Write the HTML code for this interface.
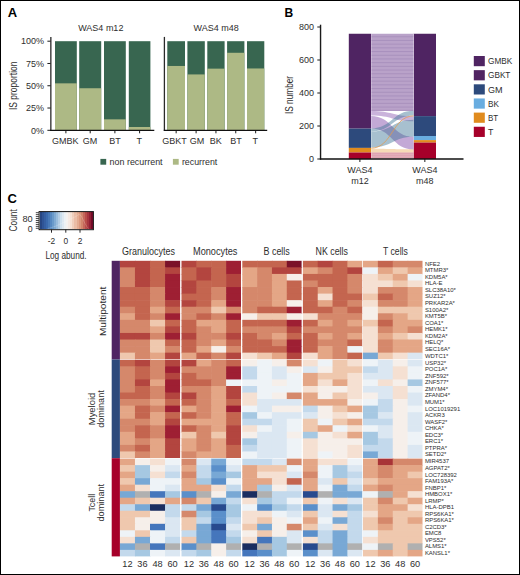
<!DOCTYPE html><html><head><meta charset="utf-8"><style>html,body{margin:0;padding:0;background:#fff;}svg{display:block;}</style></head><body>
<svg width="520" height="575" viewBox="0 0 520 575" font-family='"Liberation Sans", sans-serif'>
<rect x="0" y="0" width="520" height="575" fill="#ffffff"/>
<rect x="55" y="41.2" width="21.8" height="89.1" fill="#386650"/>
<rect x="55" y="83.34" width="21.8" height="46.96" fill="#adb985"/>
<line x1="65.9" y1="130.3" x2="65.9" y2="133.3" stroke="#1a1a1a" stroke-width="1"/>
<text x="65.3" y="144.3" font-size="9" text-anchor="middle" font-weight="normal" fill="#2e2e2e">GMBK</text>
<rect x="79.2" y="41.2" width="22" height="89.1" fill="#386650"/>
<rect x="79.2" y="88.24" width="22" height="42.06" fill="#adb985"/>
<line x1="90.2" y1="130.3" x2="90.2" y2="133.3" stroke="#1a1a1a" stroke-width="1"/>
<text x="90.1" y="144.3" font-size="9" text-anchor="middle" font-weight="normal" fill="#2e2e2e">GM</text>
<rect x="104" y="41.2" width="21.8" height="89.1" fill="#386650"/>
<rect x="104" y="119.34" width="21.8" height="10.96" fill="#adb985"/>
<line x1="114.9" y1="130.3" x2="114.9" y2="133.3" stroke="#1a1a1a" stroke-width="1"/>
<text x="115" y="144.3" font-size="9" text-anchor="middle" font-weight="normal" fill="#2e2e2e">BT</text>
<rect x="128.8" y="41.2" width="21.6" height="89.1" fill="#386650"/>
<rect x="128.8" y="127" width="21.6" height="3.3" fill="#adb985"/>
<line x1="139.6" y1="130.3" x2="139.6" y2="133.3" stroke="#1a1a1a" stroke-width="1"/>
<text x="139.2" y="144.3" font-size="9" text-anchor="middle" font-weight="normal" fill="#2e2e2e">T</text>
<line x1="50.85" y1="36.9" x2="50.85" y2="130.9" stroke="#2a2a2a" stroke-width="1.3"/>
<line x1="47.4" y1="41.2" x2="50.6" y2="41.2" stroke="#1a1a1a" stroke-width="1"/>
<text x="44.1" y="44.4" font-size="9" text-anchor="end" font-weight="normal" fill="#2e2e2e">100%</text>
<line x1="47.4" y1="63.48" x2="50.6" y2="63.48" stroke="#1a1a1a" stroke-width="1"/>
<text x="44.1" y="66.68" font-size="9" text-anchor="end" font-weight="normal" fill="#2e2e2e">75%</text>
<line x1="47.4" y1="85.75" x2="50.6" y2="85.75" stroke="#1a1a1a" stroke-width="1"/>
<text x="44.1" y="88.95" font-size="9" text-anchor="end" font-weight="normal" fill="#2e2e2e">50%</text>
<line x1="47.4" y1="108.03" x2="50.6" y2="108.03" stroke="#1a1a1a" stroke-width="1"/>
<text x="44.1" y="111.23" font-size="9" text-anchor="end" font-weight="normal" fill="#2e2e2e">25%</text>
<line x1="47.4" y1="130.3" x2="50.6" y2="130.3" stroke="#1a1a1a" stroke-width="1"/>
<text x="44.1" y="133.5" font-size="9" text-anchor="end" font-weight="normal" fill="#2e2e2e">0%</text>
<line x1="50.1" y1="130.4" x2="154.3" y2="130.4" stroke="#111" stroke-width="1.3"/>
<rect x="167.3" y="41.2" width="17.7" height="89.1" fill="#386650"/>
<rect x="167.3" y="65.97" width="17.7" height="64.33" fill="#adb985"/>
<line x1="176.15" y1="130.3" x2="176.15" y2="133.3" stroke="#1a1a1a" stroke-width="1"/>
<text x="174.4" y="144.3" font-size="9" text-anchor="middle" font-weight="normal" fill="#2e2e2e">GBKT</text>
<rect x="187.4" y="41.2" width="17.4" height="89.1" fill="#386650"/>
<rect x="187.4" y="74.43" width="17.4" height="55.87" fill="#adb985"/>
<line x1="196.1" y1="130.3" x2="196.1" y2="133.3" stroke="#1a1a1a" stroke-width="1"/>
<text x="196.9" y="144.3" font-size="9" text-anchor="middle" font-weight="normal" fill="#2e2e2e">GM</text>
<rect x="207.3" y="41.2" width="17.3" height="89.1" fill="#386650"/>
<rect x="207.3" y="68.64" width="17.3" height="61.66" fill="#adb985"/>
<line x1="215.95" y1="130.3" x2="215.95" y2="133.3" stroke="#1a1a1a" stroke-width="1"/>
<text x="215.75" y="144.3" font-size="9" text-anchor="middle" font-weight="normal" fill="#2e2e2e">BK</text>
<rect x="227.1" y="41.2" width="17.3" height="89.1" fill="#386650"/>
<rect x="227.1" y="52.78" width="17.3" height="77.52" fill="#adb985"/>
<line x1="235.75" y1="130.3" x2="235.75" y2="133.3" stroke="#1a1a1a" stroke-width="1"/>
<text x="236" y="144.3" font-size="9" text-anchor="middle" font-weight="normal" fill="#2e2e2e">BT</text>
<rect x="247" y="41.2" width="17.3" height="89.1" fill="#386650"/>
<rect x="247" y="68.46" width="17.3" height="61.84" fill="#adb985"/>
<line x1="255.65" y1="130.3" x2="255.65" y2="133.3" stroke="#1a1a1a" stroke-width="1"/>
<text x="255.3" y="144.3" font-size="9" text-anchor="middle" font-weight="normal" fill="#2e2e2e">T</text>
<line x1="164.4" y1="36.9" x2="164.4" y2="130.9" stroke="#2a2a2a" stroke-width="1.3"/>
<line x1="163.8" y1="130.4" x2="267.2" y2="130.4" stroke="#111" stroke-width="1.3"/>
<text x="100.8" y="31.2" font-size="9" text-anchor="middle" font-weight="normal" fill="#2e2e2e">WAS4 m12</text>
<text x="216.1" y="31.2" font-size="9" text-anchor="middle" font-weight="normal" fill="#2e2e2e">WAS4 m48</text>
<text transform="translate(16.8 85.8) rotate(-90)" x="0" y="0" font-size="10.5" text-anchor="middle" fill="#2e2e2e" textLength="48.4" lengthAdjust="spacingAndGlyphs">IS proportion</text>
<rect x="100.4" y="158.9" width="5.8" height="5.8" fill="#386650"/>
<text x="109.6" y="164.6" font-size="9" text-anchor="start" font-weight="normal" fill="#2e2e2e" textLength="53" lengthAdjust="spacingAndGlyphs">non recurrent</text>
<rect x="172.9" y="158.9" width="5.8" height="5.8" fill="#adb985"/>
<text x="181.9" y="164.6" font-size="9" text-anchor="start" font-weight="normal" fill="#2e2e2e" textLength="35.4" lengthAdjust="spacingAndGlyphs">recurrent</text>
<text transform="translate(293 95) rotate(-90)" x="0" y="0" font-size="10.5" text-anchor="middle" fill="#2e2e2e" textLength="38.2" lengthAdjust="spacingAndGlyphs">IS number</text>
<rect x="348.8" y="33.75" width="22.2" height="94.85" fill="#4f2462"/>
<rect x="348.8" y="128.6" width="22.2" height="19.3" fill="#2d4a7c"/>
<rect x="348.8" y="147.9" width="22.2" height="4.6" fill="#e08b1e"/>
<rect x="348.8" y="152.5" width="22.2" height="6.5" fill="#a6002a"/>
<rect x="413.7" y="33.75" width="22.3" height="82.35" fill="#4f2462"/>
<rect x="413.7" y="116.1" width="22.3" height="19.9" fill="#2d4a7c"/>
<rect x="413.7" y="136" width="22.3" height="4.1" fill="#69ade0"/>
<rect x="413.7" y="140.1" width="22.3" height="2.5" fill="#e08b1e"/>
<rect x="413.7" y="142.6" width="22.3" height="16.4" fill="#a6002a"/>
<rect x="371" y="33.75" width="42.7" height="77.05" fill="#b9a2c9"/>
<line x1="371" y1="36.75" x2="413.7" y2="36.75" stroke="#a48dba" stroke-width="0.8"/>
<line x1="371" y1="40.45" x2="413.7" y2="40.45" stroke="#a48dba" stroke-width="0.8"/>
<line x1="371" y1="44.15" x2="413.7" y2="44.15" stroke="#a48dba" stroke-width="0.8"/>
<line x1="371" y1="47.85" x2="413.7" y2="47.85" stroke="#a48dba" stroke-width="0.8"/>
<line x1="371" y1="51.55" x2="413.7" y2="51.55" stroke="#a48dba" stroke-width="0.8"/>
<line x1="371" y1="55.25" x2="413.7" y2="55.25" stroke="#a48dba" stroke-width="0.8"/>
<line x1="371" y1="58.95" x2="413.7" y2="58.95" stroke="#a48dba" stroke-width="0.8"/>
<line x1="371" y1="62.65" x2="413.7" y2="62.65" stroke="#a48dba" stroke-width="0.8"/>
<line x1="371" y1="66.35" x2="413.7" y2="66.35" stroke="#a48dba" stroke-width="0.8"/>
<line x1="371" y1="70.05" x2="413.7" y2="70.05" stroke="#a48dba" stroke-width="0.8"/>
<line x1="371" y1="73.75" x2="413.7" y2="73.75" stroke="#a48dba" stroke-width="0.8"/>
<line x1="371" y1="77.45" x2="413.7" y2="77.45" stroke="#a48dba" stroke-width="0.8"/>
<line x1="371" y1="81.15" x2="413.7" y2="81.15" stroke="#a48dba" stroke-width="0.8"/>
<line x1="371" y1="84.85" x2="413.7" y2="84.85" stroke="#a48dba" stroke-width="0.8"/>
<line x1="371" y1="88.55" x2="413.7" y2="88.55" stroke="#a48dba" stroke-width="0.8"/>
<line x1="371" y1="92.25" x2="413.7" y2="92.25" stroke="#a48dba" stroke-width="0.8"/>
<line x1="371" y1="95.95" x2="413.7" y2="95.95" stroke="#a48dba" stroke-width="0.8"/>
<line x1="371" y1="99.65" x2="413.7" y2="99.65" stroke="#a48dba" stroke-width="0.8"/>
<line x1="371" y1="103.35" x2="413.7" y2="103.35" stroke="#a48dba" stroke-width="0.8"/>
<line x1="371" y1="107.05" x2="413.7" y2="107.05" stroke="#a48dba" stroke-width="0.8"/>
<line x1="371" y1="110.3" x2="413.7" y2="110.3" stroke="#a98fbe" stroke-width="1"/>
<path d="M371 111 C392.35 111 392.35 116.2 413.7 116.2 L413.7 121.2 C392.35 121.2 392.35 115.4 371 115.4 Z" fill="#7a40a4" fill-opacity="0.4"/>
<path d="M371 116 C392.35 116 392.35 136.8 413.7 136.8 L413.7 149.4 C392.35 149.4 392.35 128.4 371 128.4 Z" fill="#7a40a4" fill-opacity="0.45"/>
<path d="M371 128.4 C392.35 128.4 392.35 110.8 413.7 110.8 L413.7 115.6 C392.35 115.6 392.35 131.6 371 131.6 Z" fill="#3b7394" fill-opacity="0.45"/>
<path d="M371 131.6 C392.35 131.6 392.35 119.8 413.7 119.8 L413.7 136.8 C392.35 136.8 392.35 147.6 371 147.6 Z" fill="#3b7394" fill-opacity="0.45"/>
<path d="M371 148.2 C392.35 148.2 392.35 115.9 413.7 115.9" fill="none" stroke="#e39a4c" stroke-width="0.9" stroke-opacity="0.85"/>
<path d="M371 148.8 C392.35 148.8 392.35 149.4 413.7 149.4 L413.7 152.6 C392.35 152.6 392.35 152.6 371 152.6 Z" fill="#e08b1e" fill-opacity="0.32"/>
<path d="M371 152.6 C392.35 152.6 392.35 152.6 413.7 152.6 L413.7 158.6 C392.35 158.6 392.35 158.6 371 158.6 Z" fill="#a6002a" fill-opacity="0.36"/>
<line x1="371" y1="154.6" x2="413.7" y2="154.6" stroke="#ffffff" stroke-width="0.5" stroke-opacity="0.25"/>
<line x1="371" y1="156.6" x2="413.7" y2="156.6" stroke="#ffffff" stroke-width="0.5" stroke-opacity="0.25"/>
<rect x="371" y="33.75" width="0.7" height="124.85" fill="#ffffff" fill-opacity="0.35"/>
<rect x="413" y="33.75" width="0.7" height="124.85" fill="#ffffff" fill-opacity="0.35"/>
<line x1="320.55" y1="24.7" x2="320.55" y2="159.6" stroke="#1a1a1a" stroke-width="1.4"/>
<line x1="317.3" y1="159" x2="320.4" y2="159" stroke="#1a1a1a" stroke-width="1"/>
<text x="314" y="162.2" font-size="9" text-anchor="end" font-weight="normal" fill="#2e2e2e">0</text>
<line x1="317.3" y1="126" x2="320.4" y2="126" stroke="#1a1a1a" stroke-width="1"/>
<text x="314" y="129.2" font-size="9" text-anchor="end" font-weight="normal" fill="#2e2e2e">200</text>
<line x1="317.3" y1="93" x2="320.4" y2="93" stroke="#1a1a1a" stroke-width="1"/>
<text x="314" y="96.2" font-size="9" text-anchor="end" font-weight="normal" fill="#2e2e2e">400</text>
<line x1="317.3" y1="60" x2="320.4" y2="60" stroke="#1a1a1a" stroke-width="1"/>
<text x="314" y="63.2" font-size="9" text-anchor="end" font-weight="normal" fill="#2e2e2e">600</text>
<line x1="317.3" y1="27" x2="320.4" y2="27" stroke="#1a1a1a" stroke-width="1"/>
<text x="314" y="30.2" font-size="9" text-anchor="end" font-weight="normal" fill="#2e2e2e">800</text>
<line x1="319.9" y1="158.95" x2="463.5" y2="158.95" stroke="#111" stroke-width="1.4"/>
<line x1="359.9" y1="159" x2="359.9" y2="162" stroke="#1a1a1a" stroke-width="1"/>
<text x="359.9" y="173.4" font-size="9" text-anchor="middle" font-weight="normal" fill="#2e2e2e">WAS4</text>
<text x="359.9" y="183.8" font-size="9" text-anchor="middle" font-weight="normal" fill="#2e2e2e">m12</text>
<line x1="424.85" y1="159" x2="424.85" y2="162" stroke="#1a1a1a" stroke-width="1"/>
<text x="424.85" y="173.4" font-size="9" text-anchor="middle" font-weight="normal" fill="#2e2e2e">WAS4</text>
<text x="424.85" y="183.8" font-size="9" text-anchor="middle" font-weight="normal" fill="#2e2e2e">m48</text>
<rect x="473.8" y="56" width="11" height="10.2" fill="#4f2462"/>
<text x="488" y="64.3" font-size="9" text-anchor="start" font-weight="normal" fill="#2e2e2e" textLength="24.2" lengthAdjust="spacingAndGlyphs">GMBK</text>
<rect x="473.8" y="70.15" width="11" height="10.2" fill="#512462"/>
<text x="488" y="78.45" font-size="9" text-anchor="start" font-weight="normal" fill="#2e2e2e" textLength="22.4" lengthAdjust="spacingAndGlyphs">GBKT</text>
<rect x="473.8" y="84.3" width="11" height="10.2" fill="#2d4a7c"/>
<text x="488" y="92.6" font-size="9" text-anchor="start" font-weight="normal" fill="#2e2e2e" textLength="14.6" lengthAdjust="spacingAndGlyphs">GM</text>
<rect x="473.8" y="98.45" width="11" height="10.2" fill="#69ade0"/>
<text x="488" y="106.75" font-size="9" text-anchor="start" font-weight="normal" fill="#2e2e2e" textLength="10.9" lengthAdjust="spacingAndGlyphs">BK</text>
<rect x="473.8" y="112.6" width="11" height="10.2" fill="#e08b1e"/>
<text x="488" y="120.9" font-size="9" text-anchor="start" font-weight="normal" fill="#2e2e2e" textLength="10.2" lengthAdjust="spacingAndGlyphs">BT</text>
<rect x="473.8" y="126.75" width="11" height="10.2" fill="#a6002a"/>
<text x="488" y="135.05" font-size="9" text-anchor="start" font-weight="normal" fill="#2e2e2e" textLength="5.4" lengthAdjust="spacingAndGlyphs">T</text>
<g>
<rect x="119.9" y="260.8" width="15.65" height="7.16" fill="#b3453f"/>
<rect x="134.95" y="260.8" width="15.65" height="7.16" fill="#b3453f"/>
<rect x="150" y="260.8" width="15.65" height="7.16" fill="#c4654f"/>
<rect x="165.05" y="260.8" width="15.05" height="7.16" fill="#7b1229"/>
<rect x="119.9" y="267.36" width="15.65" height="7.16" fill="#d5886b"/>
<rect x="134.95" y="267.36" width="15.65" height="7.16" fill="#b3453f"/>
<rect x="150" y="267.36" width="15.65" height="7.16" fill="#c4654f"/>
<rect x="165.05" y="267.36" width="15.05" height="7.16" fill="#b3453f"/>
<rect x="119.9" y="273.92" width="15.65" height="7.16" fill="#d5886b"/>
<rect x="134.95" y="273.92" width="15.65" height="7.16" fill="#b3453f"/>
<rect x="150" y="273.92" width="15.65" height="7.16" fill="#c4654f"/>
<rect x="165.05" y="273.92" width="15.05" height="7.16" fill="#9e1f33"/>
<rect x="119.9" y="280.48" width="15.65" height="7.16" fill="#d5886b"/>
<rect x="134.95" y="280.48" width="15.65" height="7.16" fill="#b3453f"/>
<rect x="150" y="280.48" width="15.65" height="7.16" fill="#c4654f"/>
<rect x="165.05" y="280.48" width="15.05" height="7.16" fill="#9e1f33"/>
<rect x="119.9" y="287.04" width="15.65" height="7.16" fill="#c4654f"/>
<rect x="134.95" y="287.04" width="15.65" height="7.16" fill="#c4654f"/>
<rect x="150" y="287.04" width="15.65" height="7.16" fill="#d5886b"/>
<rect x="165.05" y="287.04" width="15.05" height="7.16" fill="#9e1f33"/>
<rect x="119.9" y="293.6" width="15.65" height="7.16" fill="#c4654f"/>
<rect x="134.95" y="293.6" width="15.65" height="7.16" fill="#c4654f"/>
<rect x="150" y="293.6" width="15.65" height="7.16" fill="#d5886b"/>
<rect x="165.05" y="293.6" width="15.05" height="7.16" fill="#9e1f33"/>
<rect x="119.9" y="300.16" width="15.65" height="7.16" fill="#c4654f"/>
<rect x="134.95" y="300.16" width="15.65" height="7.16" fill="#c4654f"/>
<rect x="150" y="300.16" width="15.65" height="7.16" fill="#d5886b"/>
<rect x="165.05" y="300.16" width="15.05" height="7.16" fill="#b3453f"/>
<rect x="119.9" y="306.72" width="15.65" height="7.16" fill="#d5886b"/>
<rect x="134.95" y="306.72" width="15.65" height="7.16" fill="#c4654f"/>
<rect x="150" y="306.72" width="15.65" height="7.16" fill="#e4a686"/>
<rect x="165.05" y="306.72" width="15.05" height="7.16" fill="#c4654f"/>
<rect x="119.9" y="313.28" width="15.65" height="7.16" fill="#e4a686"/>
<rect x="134.95" y="313.28" width="15.65" height="7.16" fill="#c4654f"/>
<rect x="150" y="313.28" width="15.65" height="7.16" fill="#d5886b"/>
<rect x="165.05" y="313.28" width="15.05" height="7.16" fill="#9e1f33"/>
<rect x="119.9" y="319.84" width="15.65" height="7.16" fill="#d5886b"/>
<rect x="134.95" y="319.84" width="15.65" height="7.16" fill="#d5886b"/>
<rect x="150" y="319.84" width="15.65" height="7.16" fill="#efc8ae"/>
<rect x="165.05" y="319.84" width="15.05" height="7.16" fill="#c4654f"/>
<rect x="119.9" y="326.4" width="15.65" height="7.16" fill="#d5886b"/>
<rect x="134.95" y="326.4" width="15.65" height="7.16" fill="#d5886b"/>
<rect x="150" y="326.4" width="15.65" height="7.16" fill="#e4a686"/>
<rect x="165.05" y="326.4" width="15.05" height="7.16" fill="#b3453f"/>
<rect x="119.9" y="332.96" width="15.65" height="7.16" fill="#b3453f"/>
<rect x="134.95" y="332.96" width="15.65" height="7.16" fill="#b3453f"/>
<rect x="150" y="332.96" width="15.65" height="7.16" fill="#d5886b"/>
<rect x="165.05" y="332.96" width="15.05" height="7.16" fill="#9e1f33"/>
<rect x="119.9" y="339.52" width="15.65" height="7.16" fill="#d5886b"/>
<rect x="134.95" y="339.52" width="15.65" height="7.16" fill="#d5886b"/>
<rect x="150" y="339.52" width="15.65" height="7.16" fill="#efc8ae"/>
<rect x="165.05" y="339.52" width="15.05" height="7.16" fill="#c4654f"/>
<rect x="119.9" y="346.08" width="15.65" height="7.16" fill="#d5886b"/>
<rect x="134.95" y="346.08" width="15.65" height="7.16" fill="#d5886b"/>
<rect x="150" y="346.08" width="15.65" height="7.16" fill="#efc8ae"/>
<rect x="165.05" y="346.08" width="15.05" height="7.16" fill="#d5886b"/>
<rect x="119.9" y="352.64" width="15.65" height="6.56" fill="#efc8ae"/>
<rect x="134.95" y="352.64" width="15.65" height="6.56" fill="#d5886b"/>
<rect x="150" y="352.64" width="15.65" height="6.56" fill="#e4a686"/>
<rect x="165.05" y="352.64" width="15.05" height="6.56" fill="#b3453f"/>
<rect x="119.9" y="359.8" width="15.65" height="7.15" fill="#c4654f"/>
<rect x="134.95" y="359.8" width="15.65" height="7.15" fill="#b3453f"/>
<rect x="150" y="359.8" width="15.65" height="7.15" fill="#d5886b"/>
<rect x="165.05" y="359.8" width="15.05" height="7.15" fill="#b3453f"/>
<rect x="119.9" y="366.35" width="15.65" height="7.15" fill="#d5886b"/>
<rect x="134.95" y="366.35" width="15.65" height="7.15" fill="#c4654f"/>
<rect x="150" y="366.35" width="15.65" height="7.15" fill="#d5886b"/>
<rect x="165.05" y="366.35" width="15.05" height="7.15" fill="#9e1f33"/>
<rect x="119.9" y="372.89" width="15.65" height="7.15" fill="#d5886b"/>
<rect x="134.95" y="372.89" width="15.65" height="7.15" fill="#c4654f"/>
<rect x="150" y="372.89" width="15.65" height="7.15" fill="#d5886b"/>
<rect x="165.05" y="372.89" width="15.05" height="7.15" fill="#b3453f"/>
<rect x="119.9" y="379.44" width="15.65" height="7.15" fill="#d5886b"/>
<rect x="134.95" y="379.44" width="15.65" height="7.15" fill="#b3453f"/>
<rect x="150" y="379.44" width="15.65" height="7.15" fill="#e4a686"/>
<rect x="165.05" y="379.44" width="15.05" height="7.15" fill="#9e1f33"/>
<rect x="119.9" y="385.99" width="15.65" height="7.15" fill="#d5886b"/>
<rect x="134.95" y="385.99" width="15.65" height="7.15" fill="#c4654f"/>
<rect x="150" y="385.99" width="15.65" height="7.15" fill="#d5886b"/>
<rect x="165.05" y="385.99" width="15.05" height="7.15" fill="#9e1f33"/>
<rect x="119.9" y="392.53" width="15.65" height="7.15" fill="#c4654f"/>
<rect x="134.95" y="392.53" width="15.65" height="7.15" fill="#c4654f"/>
<rect x="150" y="392.53" width="15.65" height="7.15" fill="#d5886b"/>
<rect x="165.05" y="392.53" width="15.05" height="7.15" fill="#b3453f"/>
<rect x="119.9" y="399.08" width="15.65" height="7.15" fill="#d5886b"/>
<rect x="134.95" y="399.08" width="15.65" height="7.15" fill="#d5886b"/>
<rect x="150" y="399.08" width="15.65" height="7.15" fill="#e4a686"/>
<rect x="165.05" y="399.08" width="15.05" height="7.15" fill="#c4654f"/>
<rect x="119.9" y="405.63" width="15.65" height="7.15" fill="#e4a686"/>
<rect x="134.95" y="405.63" width="15.65" height="7.15" fill="#c4654f"/>
<rect x="150" y="405.63" width="15.65" height="7.15" fill="#d5886b"/>
<rect x="165.05" y="405.63" width="15.05" height="7.15" fill="#9e1f33"/>
<rect x="119.9" y="412.17" width="15.65" height="7.15" fill="#e4a686"/>
<rect x="134.95" y="412.17" width="15.65" height="7.15" fill="#c4654f"/>
<rect x="150" y="412.17" width="15.65" height="7.15" fill="#e4a686"/>
<rect x="165.05" y="412.17" width="15.05" height="7.15" fill="#c4654f"/>
<rect x="119.9" y="418.72" width="15.65" height="7.15" fill="#d5886b"/>
<rect x="134.95" y="418.72" width="15.65" height="7.15" fill="#d5886b"/>
<rect x="150" y="418.72" width="15.65" height="7.15" fill="#e4a686"/>
<rect x="165.05" y="418.72" width="15.05" height="7.15" fill="#b3453f"/>
<rect x="119.9" y="425.27" width="15.65" height="7.15" fill="#d5886b"/>
<rect x="134.95" y="425.27" width="15.65" height="7.15" fill="#c4654f"/>
<rect x="150" y="425.27" width="15.65" height="7.15" fill="#d5886b"/>
<rect x="165.05" y="425.27" width="15.05" height="7.15" fill="#9e1f33"/>
<rect x="119.9" y="431.81" width="15.65" height="7.15" fill="#e4a686"/>
<rect x="134.95" y="431.81" width="15.65" height="7.15" fill="#c4654f"/>
<rect x="150" y="431.81" width="15.65" height="7.15" fill="#d5886b"/>
<rect x="165.05" y="431.81" width="15.05" height="7.15" fill="#9e1f33"/>
<rect x="119.9" y="438.36" width="15.65" height="7.15" fill="#e4a686"/>
<rect x="134.95" y="438.36" width="15.65" height="7.15" fill="#d5886b"/>
<rect x="150" y="438.36" width="15.65" height="7.15" fill="#e4a686"/>
<rect x="165.05" y="438.36" width="15.05" height="7.15" fill="#b3453f"/>
<rect x="119.9" y="444.91" width="15.65" height="7.15" fill="#d5886b"/>
<rect x="134.95" y="444.91" width="15.65" height="7.15" fill="#c4654f"/>
<rect x="150" y="444.91" width="15.65" height="7.15" fill="#e4a686"/>
<rect x="165.05" y="444.91" width="15.05" height="7.15" fill="#b3453f"/>
<rect x="119.9" y="451.45" width="15.65" height="6.55" fill="#efc8ae"/>
<rect x="134.95" y="451.45" width="15.65" height="6.55" fill="#d5886b"/>
<rect x="150" y="451.45" width="15.65" height="6.55" fill="#e4a686"/>
<rect x="165.05" y="451.45" width="15.05" height="6.55" fill="#b3453f"/>
<rect x="119.9" y="458.6" width="15.65" height="7.12" fill="#e4a686"/>
<rect x="134.95" y="458.6" width="15.65" height="7.12" fill="#f6efea"/>
<rect x="150" y="458.6" width="15.65" height="7.12" fill="#f5e0d2"/>
<rect x="165.05" y="458.6" width="15.05" height="7.12" fill="#eef3f7"/>
<rect x="119.9" y="465.12" width="15.65" height="7.12" fill="#efc8ae"/>
<rect x="134.95" y="465.12" width="15.65" height="7.12" fill="#a6c8e2"/>
<rect x="150" y="465.12" width="15.65" height="7.12" fill="#f6efea"/>
<rect x="165.05" y="465.12" width="15.05" height="7.12" fill="#dbe7f2"/>
<rect x="119.9" y="471.64" width="15.65" height="7.12" fill="#e4a686"/>
<rect x="134.95" y="471.64" width="15.65" height="7.12" fill="#a6c8e2"/>
<rect x="150" y="471.64" width="15.65" height="7.12" fill="#f5e0d2"/>
<rect x="165.05" y="471.64" width="15.05" height="7.12" fill="#c3d9ec"/>
<rect x="119.9" y="478.16" width="15.65" height="7.12" fill="#efc8ae"/>
<rect x="134.95" y="478.16" width="15.65" height="7.12" fill="#78a8d5"/>
<rect x="150" y="478.16" width="15.65" height="7.12" fill="#eef3f7"/>
<rect x="165.05" y="478.16" width="15.05" height="7.12" fill="#eef3f7"/>
<rect x="119.9" y="484.68" width="15.65" height="7.12" fill="#e4a686"/>
<rect x="134.95" y="484.68" width="15.65" height="7.12" fill="#f5e0d2"/>
<rect x="150" y="484.68" width="15.65" height="7.12" fill="#eef3f7"/>
<rect x="165.05" y="484.68" width="15.05" height="7.12" fill="#dbe7f2"/>
<rect x="119.9" y="491.2" width="15.65" height="7.12" fill="#78a8d5"/>
<rect x="134.95" y="491.2" width="15.65" height="7.12" fill="#b0b0b0"/>
<rect x="150" y="491.2" width="15.65" height="7.12" fill="#4576bc"/>
<rect x="165.05" y="491.2" width="15.05" height="7.12" fill="#a6c8e2"/>
<rect x="119.9" y="497.72" width="15.65" height="7.12" fill="#e4a686"/>
<rect x="134.95" y="497.72" width="15.65" height="7.12" fill="#efc8ae"/>
<rect x="150" y="497.72" width="15.65" height="7.12" fill="#f5e0d2"/>
<rect x="165.05" y="497.72" width="15.05" height="7.12" fill="#e4a686"/>
<rect x="119.9" y="504.24" width="15.65" height="7.12" fill="#c3d9ec"/>
<rect x="134.95" y="504.24" width="15.65" height="7.12" fill="#78a8d5"/>
<rect x="150" y="504.24" width="15.65" height="7.12" fill="#1a2d60"/>
<rect x="165.05" y="504.24" width="15.05" height="7.12" fill="#c3d9ec"/>
<rect x="119.9" y="510.76" width="15.65" height="7.12" fill="#efc8ae"/>
<rect x="134.95" y="510.76" width="15.65" height="7.12" fill="#efc8ae"/>
<rect x="150" y="510.76" width="15.65" height="7.12" fill="#f6efea"/>
<rect x="165.05" y="510.76" width="15.05" height="7.12" fill="#c3d9ec"/>
<rect x="119.9" y="517.28" width="15.65" height="7.12" fill="#efc8ae"/>
<rect x="134.95" y="517.28" width="15.65" height="7.12" fill="#f6efea"/>
<rect x="150" y="517.28" width="15.65" height="7.12" fill="#f6efea"/>
<rect x="165.05" y="517.28" width="15.05" height="7.12" fill="#dbe7f2"/>
<rect x="119.9" y="523.8" width="15.65" height="7.12" fill="#efc8ae"/>
<rect x="134.95" y="523.8" width="15.65" height="7.12" fill="#f6efea"/>
<rect x="150" y="523.8" width="15.65" height="7.12" fill="#4576bc"/>
<rect x="165.05" y="523.8" width="15.05" height="7.12" fill="#dbe7f2"/>
<rect x="119.9" y="530.32" width="15.65" height="7.12" fill="#eef3f7"/>
<rect x="134.95" y="530.32" width="15.65" height="7.12" fill="#efc8ae"/>
<rect x="150" y="530.32" width="15.65" height="7.12" fill="#eef3f7"/>
<rect x="165.05" y="530.32" width="15.05" height="7.12" fill="#dbe7f2"/>
<rect x="119.9" y="536.84" width="15.65" height="7.12" fill="#f5e0d2"/>
<rect x="134.95" y="536.84" width="15.65" height="7.12" fill="#78a8d5"/>
<rect x="150" y="536.84" width="15.65" height="7.12" fill="#eef3f7"/>
<rect x="165.05" y="536.84" width="15.05" height="7.12" fill="#c3d9ec"/>
<rect x="119.9" y="543.36" width="15.65" height="7.12" fill="#78a8d5"/>
<rect x="134.95" y="543.36" width="15.65" height="7.12" fill="#b0b0b0"/>
<rect x="150" y="543.36" width="15.65" height="7.12" fill="#4576bc"/>
<rect x="165.05" y="543.36" width="15.05" height="7.12" fill="#b0b0b0"/>
<rect x="119.9" y="549.88" width="15.65" height="6.52" fill="#c3d9ec"/>
<rect x="134.95" y="549.88" width="15.65" height="6.52" fill="#a6c8e2"/>
<rect x="150" y="549.88" width="15.65" height="6.52" fill="#eef3f7"/>
<rect x="165.05" y="549.88" width="15.05" height="6.52" fill="#dbe7f2"/>
<rect x="181.5" y="260.8" width="15.47" height="7.16" fill="#b3453f"/>
<rect x="196.38" y="260.8" width="15.47" height="7.16" fill="#c4654f"/>
<rect x="211.25" y="260.8" width="15.47" height="7.16" fill="#c4654f"/>
<rect x="226.12" y="260.8" width="14.88" height="7.16" fill="#9e1f33"/>
<rect x="181.5" y="267.36" width="15.47" height="7.16" fill="#c4654f"/>
<rect x="196.38" y="267.36" width="15.47" height="7.16" fill="#b3453f"/>
<rect x="211.25" y="267.36" width="15.47" height="7.16" fill="#c4654f"/>
<rect x="226.12" y="267.36" width="14.88" height="7.16" fill="#9e1f33"/>
<rect x="181.5" y="273.92" width="15.47" height="7.16" fill="#c4654f"/>
<rect x="196.38" y="273.92" width="15.47" height="7.16" fill="#b3453f"/>
<rect x="211.25" y="273.92" width="15.47" height="7.16" fill="#c4654f"/>
<rect x="226.12" y="273.92" width="14.88" height="7.16" fill="#b3453f"/>
<rect x="181.5" y="280.48" width="15.47" height="7.16" fill="#b3453f"/>
<rect x="196.38" y="280.48" width="15.47" height="7.16" fill="#c4654f"/>
<rect x="211.25" y="280.48" width="15.47" height="7.16" fill="#c4654f"/>
<rect x="226.12" y="280.48" width="14.88" height="7.16" fill="#b3453f"/>
<rect x="181.5" y="287.04" width="15.47" height="7.16" fill="#b3453f"/>
<rect x="196.38" y="287.04" width="15.47" height="7.16" fill="#c4654f"/>
<rect x="211.25" y="287.04" width="15.47" height="7.16" fill="#d5886b"/>
<rect x="226.12" y="287.04" width="14.88" height="7.16" fill="#9e1f33"/>
<rect x="181.5" y="293.6" width="15.47" height="7.16" fill="#c4654f"/>
<rect x="196.38" y="293.6" width="15.47" height="7.16" fill="#c4654f"/>
<rect x="211.25" y="293.6" width="15.47" height="7.16" fill="#d5886b"/>
<rect x="226.12" y="293.6" width="14.88" height="7.16" fill="#9e1f33"/>
<rect x="181.5" y="300.16" width="15.47" height="7.16" fill="#b3453f"/>
<rect x="196.38" y="300.16" width="15.47" height="7.16" fill="#c4654f"/>
<rect x="211.25" y="300.16" width="15.47" height="7.16" fill="#e4a686"/>
<rect x="226.12" y="300.16" width="14.88" height="7.16" fill="#9e1f33"/>
<rect x="181.5" y="306.72" width="15.47" height="7.16" fill="#d5886b"/>
<rect x="196.38" y="306.72" width="15.47" height="7.16" fill="#d5886b"/>
<rect x="211.25" y="306.72" width="15.47" height="7.16" fill="#efc8ae"/>
<rect x="226.12" y="306.72" width="14.88" height="7.16" fill="#d5886b"/>
<rect x="181.5" y="313.28" width="15.47" height="7.16" fill="#d5886b"/>
<rect x="196.38" y="313.28" width="15.47" height="7.16" fill="#c4654f"/>
<rect x="211.25" y="313.28" width="15.47" height="7.16" fill="#d5886b"/>
<rect x="226.12" y="313.28" width="14.88" height="7.16" fill="#9e1f33"/>
<rect x="181.5" y="319.84" width="15.47" height="7.16" fill="#c4654f"/>
<rect x="196.38" y="319.84" width="15.47" height="7.16" fill="#e4a686"/>
<rect x="211.25" y="319.84" width="15.47" height="7.16" fill="#e4a686"/>
<rect x="226.12" y="319.84" width="14.88" height="7.16" fill="#c4654f"/>
<rect x="181.5" y="326.4" width="15.47" height="7.16" fill="#c4654f"/>
<rect x="196.38" y="326.4" width="15.47" height="7.16" fill="#d5886b"/>
<rect x="211.25" y="326.4" width="15.47" height="7.16" fill="#e4a686"/>
<rect x="226.12" y="326.4" width="14.88" height="7.16" fill="#c4654f"/>
<rect x="181.5" y="332.96" width="15.47" height="7.16" fill="#b3453f"/>
<rect x="196.38" y="332.96" width="15.47" height="7.16" fill="#d5886b"/>
<rect x="211.25" y="332.96" width="15.47" height="7.16" fill="#d5886b"/>
<rect x="226.12" y="332.96" width="14.88" height="7.16" fill="#b3453f"/>
<rect x="181.5" y="339.52" width="15.47" height="7.16" fill="#c4654f"/>
<rect x="196.38" y="339.52" width="15.47" height="7.16" fill="#d5886b"/>
<rect x="211.25" y="339.52" width="15.47" height="7.16" fill="#e4a686"/>
<rect x="226.12" y="339.52" width="14.88" height="7.16" fill="#c4654f"/>
<rect x="181.5" y="346.08" width="15.47" height="7.16" fill="#c4654f"/>
<rect x="196.38" y="346.08" width="15.47" height="7.16" fill="#e4a686"/>
<rect x="211.25" y="346.08" width="15.47" height="7.16" fill="#f6efea"/>
<rect x="226.12" y="346.08" width="14.88" height="7.16" fill="#d5886b"/>
<rect x="181.5" y="352.64" width="15.47" height="6.56" fill="#e4a686"/>
<rect x="196.38" y="352.64" width="15.47" height="6.56" fill="#c4654f"/>
<rect x="211.25" y="352.64" width="15.47" height="6.56" fill="#d5886b"/>
<rect x="226.12" y="352.64" width="14.88" height="6.56" fill="#b3453f"/>
<rect x="181.5" y="359.8" width="15.47" height="7.15" fill="#b3453f"/>
<rect x="196.38" y="359.8" width="15.47" height="7.15" fill="#e4a686"/>
<rect x="211.25" y="359.8" width="15.47" height="7.15" fill="#d5886b"/>
<rect x="226.12" y="359.8" width="14.88" height="7.15" fill="#c4654f"/>
<rect x="181.5" y="366.35" width="15.47" height="7.15" fill="#d5886b"/>
<rect x="196.38" y="366.35" width="15.47" height="7.15" fill="#d5886b"/>
<rect x="211.25" y="366.35" width="15.47" height="7.15" fill="#d5886b"/>
<rect x="226.12" y="366.35" width="14.88" height="7.15" fill="#9e1f33"/>
<rect x="181.5" y="372.89" width="15.47" height="7.15" fill="#c4654f"/>
<rect x="196.38" y="372.89" width="15.47" height="7.15" fill="#d5886b"/>
<rect x="211.25" y="372.89" width="15.47" height="7.15" fill="#d5886b"/>
<rect x="226.12" y="372.89" width="14.88" height="7.15" fill="#9e1f33"/>
<rect x="181.5" y="379.44" width="15.47" height="7.15" fill="#c4654f"/>
<rect x="196.38" y="379.44" width="15.47" height="7.15" fill="#c4654f"/>
<rect x="211.25" y="379.44" width="15.47" height="7.15" fill="#d5886b"/>
<rect x="226.12" y="379.44" width="14.88" height="7.15" fill="#eef3f7"/>
<rect x="181.5" y="385.99" width="15.47" height="7.15" fill="#d5886b"/>
<rect x="196.38" y="385.99" width="15.47" height="7.15" fill="#d5886b"/>
<rect x="211.25" y="385.99" width="15.47" height="7.15" fill="#e4a686"/>
<rect x="226.12" y="385.99" width="14.88" height="7.15" fill="#b3453f"/>
<rect x="181.5" y="392.53" width="15.47" height="7.15" fill="#b3453f"/>
<rect x="196.38" y="392.53" width="15.47" height="7.15" fill="#d5886b"/>
<rect x="211.25" y="392.53" width="15.47" height="7.15" fill="#e4a686"/>
<rect x="226.12" y="392.53" width="14.88" height="7.15" fill="#b3453f"/>
<rect x="181.5" y="399.08" width="15.47" height="7.15" fill="#c4654f"/>
<rect x="196.38" y="399.08" width="15.47" height="7.15" fill="#d5886b"/>
<rect x="211.25" y="399.08" width="15.47" height="7.15" fill="#e4a686"/>
<rect x="226.12" y="399.08" width="14.88" height="7.15" fill="#c4654f"/>
<rect x="181.5" y="405.63" width="15.47" height="7.15" fill="#e4a686"/>
<rect x="196.38" y="405.63" width="15.47" height="7.15" fill="#d5886b"/>
<rect x="211.25" y="405.63" width="15.47" height="7.15" fill="#e4a686"/>
<rect x="226.12" y="405.63" width="14.88" height="7.15" fill="#9e1f33"/>
<rect x="181.5" y="412.17" width="15.47" height="7.15" fill="#c4654f"/>
<rect x="196.38" y="412.17" width="15.47" height="7.15" fill="#d5886b"/>
<rect x="211.25" y="412.17" width="15.47" height="7.15" fill="#e4a686"/>
<rect x="226.12" y="412.17" width="14.88" height="7.15" fill="#c4654f"/>
<rect x="181.5" y="418.72" width="15.47" height="7.15" fill="#e4a686"/>
<rect x="196.38" y="418.72" width="15.47" height="7.15" fill="#e4a686"/>
<rect x="211.25" y="418.72" width="15.47" height="7.15" fill="#e4a686"/>
<rect x="226.12" y="418.72" width="14.88" height="7.15" fill="#c4654f"/>
<rect x="181.5" y="425.27" width="15.47" height="7.15" fill="#c4654f"/>
<rect x="196.38" y="425.27" width="15.47" height="7.15" fill="#d5886b"/>
<rect x="211.25" y="425.27" width="15.47" height="7.15" fill="#e4a686"/>
<rect x="226.12" y="425.27" width="14.88" height="7.15" fill="#b3453f"/>
<rect x="181.5" y="431.81" width="15.47" height="7.15" fill="#efc8ae"/>
<rect x="196.38" y="431.81" width="15.47" height="7.15" fill="#d5886b"/>
<rect x="211.25" y="431.81" width="15.47" height="7.15" fill="#efc8ae"/>
<rect x="226.12" y="431.81" width="14.88" height="7.15" fill="#b3453f"/>
<rect x="181.5" y="438.36" width="15.47" height="7.15" fill="#e4a686"/>
<rect x="196.38" y="438.36" width="15.47" height="7.15" fill="#d5886b"/>
<rect x="211.25" y="438.36" width="15.47" height="7.15" fill="#e4a686"/>
<rect x="226.12" y="438.36" width="14.88" height="7.15" fill="#b3453f"/>
<rect x="181.5" y="444.91" width="15.47" height="7.15" fill="#e4a686"/>
<rect x="196.38" y="444.91" width="15.47" height="7.15" fill="#d5886b"/>
<rect x="211.25" y="444.91" width="15.47" height="7.15" fill="#e4a686"/>
<rect x="226.12" y="444.91" width="14.88" height="7.15" fill="#c4654f"/>
<rect x="181.5" y="451.45" width="15.47" height="6.55" fill="#d5886b"/>
<rect x="196.38" y="451.45" width="15.47" height="6.55" fill="#e4a686"/>
<rect x="211.25" y="451.45" width="15.47" height="6.55" fill="#e4a686"/>
<rect x="226.12" y="451.45" width="14.88" height="6.55" fill="#c4654f"/>
<rect x="181.5" y="458.6" width="15.47" height="7.12" fill="#d5886b"/>
<rect x="196.38" y="458.6" width="15.47" height="7.12" fill="#dbe7f2"/>
<rect x="211.25" y="458.6" width="15.47" height="7.12" fill="#78a8d5"/>
<rect x="226.12" y="458.6" width="14.88" height="7.12" fill="#eef3f7"/>
<rect x="181.5" y="465.12" width="15.47" height="7.12" fill="#e4a686"/>
<rect x="196.38" y="465.12" width="15.47" height="7.12" fill="#c3d9ec"/>
<rect x="211.25" y="465.12" width="15.47" height="7.12" fill="#5a8fca"/>
<rect x="226.12" y="465.12" width="14.88" height="7.12" fill="#dbe7f2"/>
<rect x="181.5" y="471.64" width="15.47" height="7.12" fill="#d5886b"/>
<rect x="196.38" y="471.64" width="15.47" height="7.12" fill="#c3d9ec"/>
<rect x="211.25" y="471.64" width="15.47" height="7.12" fill="#78a8d5"/>
<rect x="226.12" y="471.64" width="14.88" height="7.12" fill="#a6c8e2"/>
<rect x="181.5" y="478.16" width="15.47" height="7.12" fill="#e4a686"/>
<rect x="196.38" y="478.16" width="15.47" height="7.12" fill="#a6c8e2"/>
<rect x="211.25" y="478.16" width="15.47" height="7.12" fill="#5a8fca"/>
<rect x="226.12" y="478.16" width="14.88" height="7.12" fill="#eef3f7"/>
<rect x="181.5" y="484.68" width="15.47" height="7.12" fill="#e4a686"/>
<rect x="196.38" y="484.68" width="15.47" height="7.12" fill="#e4a686"/>
<rect x="211.25" y="484.68" width="15.47" height="7.12" fill="#f5e0d2"/>
<rect x="226.12" y="484.68" width="14.88" height="7.12" fill="#c3d9ec"/>
<rect x="181.5" y="491.2" width="15.47" height="7.12" fill="#5a8fca"/>
<rect x="196.38" y="491.2" width="15.47" height="7.12" fill="#b0b0b0"/>
<rect x="211.25" y="491.2" width="15.47" height="7.12" fill="#f6efea"/>
<rect x="226.12" y="491.2" width="14.88" height="7.12" fill="#78a8d5"/>
<rect x="181.5" y="497.72" width="15.47" height="7.12" fill="#d5886b"/>
<rect x="196.38" y="497.72" width="15.47" height="7.12" fill="#efc8ae"/>
<rect x="211.25" y="497.72" width="15.47" height="7.12" fill="#78a8d5"/>
<rect x="226.12" y="497.72" width="14.88" height="7.12" fill="#c3d9ec"/>
<rect x="181.5" y="504.24" width="15.47" height="7.12" fill="#c3d9ec"/>
<rect x="196.38" y="504.24" width="15.47" height="7.12" fill="#78a8d5"/>
<rect x="211.25" y="504.24" width="15.47" height="7.12" fill="#284a8e"/>
<rect x="226.12" y="504.24" width="14.88" height="7.12" fill="#a6c8e2"/>
<rect x="181.5" y="510.76" width="15.47" height="7.12" fill="#d5886b"/>
<rect x="196.38" y="510.76" width="15.47" height="7.12" fill="#a6c8e2"/>
<rect x="211.25" y="510.76" width="15.47" height="7.12" fill="#5a8fca"/>
<rect x="226.12" y="510.76" width="14.88" height="7.12" fill="#a6c8e2"/>
<rect x="181.5" y="517.28" width="15.47" height="7.12" fill="#efc8ae"/>
<rect x="196.38" y="517.28" width="15.47" height="7.12" fill="#c3d9ec"/>
<rect x="211.25" y="517.28" width="15.47" height="7.12" fill="#5a8fca"/>
<rect x="226.12" y="517.28" width="14.88" height="7.12" fill="#c3d9ec"/>
<rect x="181.5" y="523.8" width="15.47" height="7.12" fill="#efc8ae"/>
<rect x="196.38" y="523.8" width="15.47" height="7.12" fill="#78a8d5"/>
<rect x="211.25" y="523.8" width="15.47" height="7.12" fill="#284a8e"/>
<rect x="226.12" y="523.8" width="14.88" height="7.12" fill="#dbe7f2"/>
<rect x="181.5" y="530.32" width="15.47" height="7.12" fill="#c3d9ec"/>
<rect x="196.38" y="530.32" width="15.47" height="7.12" fill="#78a8d5"/>
<rect x="211.25" y="530.32" width="15.47" height="7.12" fill="#4576bc"/>
<rect x="226.12" y="530.32" width="14.88" height="7.12" fill="#c3d9ec"/>
<rect x="181.5" y="536.84" width="15.47" height="7.12" fill="#efc8ae"/>
<rect x="196.38" y="536.84" width="15.47" height="7.12" fill="#78a8d5"/>
<rect x="211.25" y="536.84" width="15.47" height="7.12" fill="#4576bc"/>
<rect x="226.12" y="536.84" width="14.88" height="7.12" fill="#a6c8e2"/>
<rect x="181.5" y="543.36" width="15.47" height="7.12" fill="#5a8fca"/>
<rect x="196.38" y="543.36" width="15.47" height="7.12" fill="#b0b0b0"/>
<rect x="211.25" y="543.36" width="15.47" height="7.12" fill="#f6efea"/>
<rect x="226.12" y="543.36" width="14.88" height="7.12" fill="#b0b0b0"/>
<rect x="181.5" y="549.88" width="15.47" height="6.52" fill="#c3d9ec"/>
<rect x="196.38" y="549.88" width="15.47" height="6.52" fill="#a6c8e2"/>
<rect x="211.25" y="549.88" width="15.47" height="6.52" fill="#f6efea"/>
<rect x="226.12" y="549.88" width="14.88" height="6.52" fill="#c3d9ec"/>
<rect x="242.3" y="260.8" width="15.43" height="7.16" fill="#c4654f"/>
<rect x="257.12" y="260.8" width="15.43" height="7.16" fill="#c4654f"/>
<rect x="271.95" y="260.8" width="15.43" height="7.16" fill="#c4654f"/>
<rect x="286.78" y="260.8" width="14.83" height="7.16" fill="#7b1229"/>
<rect x="242.3" y="267.36" width="15.43" height="7.16" fill="#e4a686"/>
<rect x="257.12" y="267.36" width="15.43" height="7.16" fill="#d5886b"/>
<rect x="271.95" y="267.36" width="15.43" height="7.16" fill="#b3453f"/>
<rect x="286.78" y="267.36" width="14.83" height="7.16" fill="#b3453f"/>
<rect x="242.3" y="273.92" width="15.43" height="7.16" fill="#e4a686"/>
<rect x="257.12" y="273.92" width="15.43" height="7.16" fill="#d5886b"/>
<rect x="271.95" y="273.92" width="15.43" height="7.16" fill="#e4a686"/>
<rect x="286.78" y="273.92" width="14.83" height="7.16" fill="#f6efea"/>
<rect x="242.3" y="280.48" width="15.43" height="7.16" fill="#e4a686"/>
<rect x="257.12" y="280.48" width="15.43" height="7.16" fill="#d5886b"/>
<rect x="271.95" y="280.48" width="15.43" height="7.16" fill="#e4a686"/>
<rect x="286.78" y="280.48" width="14.83" height="7.16" fill="#c4654f"/>
<rect x="242.3" y="287.04" width="15.43" height="7.16" fill="#d5886b"/>
<rect x="257.12" y="287.04" width="15.43" height="7.16" fill="#d5886b"/>
<rect x="271.95" y="287.04" width="15.43" height="7.16" fill="#e4a686"/>
<rect x="286.78" y="287.04" width="14.83" height="7.16" fill="#c4654f"/>
<rect x="242.3" y="293.6" width="15.43" height="7.16" fill="#d5886b"/>
<rect x="257.12" y="293.6" width="15.43" height="7.16" fill="#d5886b"/>
<rect x="271.95" y="293.6" width="15.43" height="7.16" fill="#e4a686"/>
<rect x="286.78" y="293.6" width="14.83" height="7.16" fill="#c4654f"/>
<rect x="242.3" y="300.16" width="15.43" height="7.16" fill="#d5886b"/>
<rect x="257.12" y="300.16" width="15.43" height="7.16" fill="#d5886b"/>
<rect x="271.95" y="300.16" width="15.43" height="7.16" fill="#e4a686"/>
<rect x="286.78" y="300.16" width="14.83" height="7.16" fill="#f6efea"/>
<rect x="242.3" y="306.72" width="15.43" height="7.16" fill="#d5886b"/>
<rect x="257.12" y="306.72" width="15.43" height="7.16" fill="#c4654f"/>
<rect x="271.95" y="306.72" width="15.43" height="7.16" fill="#c4654f"/>
<rect x="286.78" y="306.72" width="14.83" height="7.16" fill="#9e1f33"/>
<rect x="242.3" y="313.28" width="15.43" height="7.16" fill="#f6efea"/>
<rect x="257.12" y="313.28" width="15.43" height="7.16" fill="#efc8ae"/>
<rect x="271.95" y="313.28" width="15.43" height="7.16" fill="#efc8ae"/>
<rect x="286.78" y="313.28" width="14.83" height="7.16" fill="#f6efea"/>
<rect x="242.3" y="319.84" width="15.43" height="7.16" fill="#c4654f"/>
<rect x="257.12" y="319.84" width="15.43" height="7.16" fill="#c4654f"/>
<rect x="271.95" y="319.84" width="15.43" height="7.16" fill="#c4654f"/>
<rect x="286.78" y="319.84" width="14.83" height="7.16" fill="#9e1f33"/>
<rect x="242.3" y="326.4" width="15.43" height="7.16" fill="#d5886b"/>
<rect x="257.12" y="326.4" width="15.43" height="7.16" fill="#d5886b"/>
<rect x="271.95" y="326.4" width="15.43" height="7.16" fill="#d5886b"/>
<rect x="286.78" y="326.4" width="14.83" height="7.16" fill="#b3453f"/>
<rect x="242.3" y="332.96" width="15.43" height="7.16" fill="#c4654f"/>
<rect x="257.12" y="332.96" width="15.43" height="7.16" fill="#d5886b"/>
<rect x="271.95" y="332.96" width="15.43" height="7.16" fill="#e4a686"/>
<rect x="286.78" y="332.96" width="14.83" height="7.16" fill="#c4654f"/>
<rect x="242.3" y="339.52" width="15.43" height="7.16" fill="#c4654f"/>
<rect x="257.12" y="339.52" width="15.43" height="7.16" fill="#c4654f"/>
<rect x="271.95" y="339.52" width="15.43" height="7.16" fill="#d5886b"/>
<rect x="286.78" y="339.52" width="14.83" height="7.16" fill="#9e1f33"/>
<rect x="242.3" y="346.08" width="15.43" height="7.16" fill="#c4654f"/>
<rect x="257.12" y="346.08" width="15.43" height="7.16" fill="#c4654f"/>
<rect x="271.95" y="346.08" width="15.43" height="7.16" fill="#c4654f"/>
<rect x="286.78" y="346.08" width="14.83" height="7.16" fill="#9e1f33"/>
<rect x="242.3" y="352.64" width="15.43" height="6.56" fill="#f5e0d2"/>
<rect x="257.12" y="352.64" width="15.43" height="6.56" fill="#efc8ae"/>
<rect x="271.95" y="352.64" width="15.43" height="6.56" fill="#e4a686"/>
<rect x="286.78" y="352.64" width="14.83" height="6.56" fill="#b3453f"/>
<rect x="242.3" y="359.8" width="15.43" height="7.15" fill="#f6efea"/>
<rect x="257.12" y="359.8" width="15.43" height="7.15" fill="#eef3f7"/>
<rect x="271.95" y="359.8" width="15.43" height="7.15" fill="#f6efea"/>
<rect x="286.78" y="359.8" width="14.83" height="7.15" fill="#d5886b"/>
<rect x="242.3" y="366.35" width="15.43" height="7.15" fill="#c3d9ec"/>
<rect x="257.12" y="366.35" width="15.43" height="7.15" fill="#eef3f7"/>
<rect x="271.95" y="366.35" width="15.43" height="7.15" fill="#dbe7f2"/>
<rect x="286.78" y="366.35" width="14.83" height="7.15" fill="#f6efea"/>
<rect x="242.3" y="372.89" width="15.43" height="7.15" fill="#c3d9ec"/>
<rect x="257.12" y="372.89" width="15.43" height="7.15" fill="#eef3f7"/>
<rect x="271.95" y="372.89" width="15.43" height="7.15" fill="#dbe7f2"/>
<rect x="286.78" y="372.89" width="14.83" height="7.15" fill="#eef3f7"/>
<rect x="242.3" y="379.44" width="15.43" height="7.15" fill="#eef3f7"/>
<rect x="257.12" y="379.44" width="15.43" height="7.15" fill="#eef3f7"/>
<rect x="271.95" y="379.44" width="15.43" height="7.15" fill="#f6efea"/>
<rect x="286.78" y="379.44" width="14.83" height="7.15" fill="#eef3f7"/>
<rect x="242.3" y="385.99" width="15.43" height="7.15" fill="#c3d9ec"/>
<rect x="257.12" y="385.99" width="15.43" height="7.15" fill="#eef3f7"/>
<rect x="271.95" y="385.99" width="15.43" height="7.15" fill="#eef3f7"/>
<rect x="286.78" y="385.99" width="14.83" height="7.15" fill="#eef3f7"/>
<rect x="242.3" y="392.53" width="15.43" height="7.15" fill="#f5e0d2"/>
<rect x="257.12" y="392.53" width="15.43" height="7.15" fill="#eef3f7"/>
<rect x="271.95" y="392.53" width="15.43" height="7.15" fill="#f6efea"/>
<rect x="286.78" y="392.53" width="14.83" height="7.15" fill="#d5886b"/>
<rect x="242.3" y="399.08" width="15.43" height="7.15" fill="#f5e0d2"/>
<rect x="257.12" y="399.08" width="15.43" height="7.15" fill="#dbe7f2"/>
<rect x="271.95" y="399.08" width="15.43" height="7.15" fill="#dbe7f2"/>
<rect x="286.78" y="399.08" width="14.83" height="7.15" fill="#dbe7f2"/>
<rect x="242.3" y="405.63" width="15.43" height="7.15" fill="#eef3f7"/>
<rect x="257.12" y="405.63" width="15.43" height="7.15" fill="#dbe7f2"/>
<rect x="271.95" y="405.63" width="15.43" height="7.15" fill="#f6efea"/>
<rect x="286.78" y="405.63" width="14.83" height="7.15" fill="#f6efea"/>
<rect x="242.3" y="412.17" width="15.43" height="7.15" fill="#a6c8e2"/>
<rect x="257.12" y="412.17" width="15.43" height="7.15" fill="#eef3f7"/>
<rect x="271.95" y="412.17" width="15.43" height="7.15" fill="#dbe7f2"/>
<rect x="286.78" y="412.17" width="14.83" height="7.15" fill="#dbe7f2"/>
<rect x="242.3" y="418.72" width="15.43" height="7.15" fill="#c3d9ec"/>
<rect x="257.12" y="418.72" width="15.43" height="7.15" fill="#c3d9ec"/>
<rect x="271.95" y="418.72" width="15.43" height="7.15" fill="#dbe7f2"/>
<rect x="286.78" y="418.72" width="14.83" height="7.15" fill="#eef3f7"/>
<rect x="242.3" y="425.27" width="15.43" height="7.15" fill="#f5e0d2"/>
<rect x="257.12" y="425.27" width="15.43" height="7.15" fill="#eef3f7"/>
<rect x="271.95" y="425.27" width="15.43" height="7.15" fill="#dbe7f2"/>
<rect x="286.78" y="425.27" width="14.83" height="7.15" fill="#eef3f7"/>
<rect x="242.3" y="431.81" width="15.43" height="7.15" fill="#f6efea"/>
<rect x="257.12" y="431.81" width="15.43" height="7.15" fill="#dbe7f2"/>
<rect x="271.95" y="431.81" width="15.43" height="7.15" fill="#dbe7f2"/>
<rect x="286.78" y="431.81" width="14.83" height="7.15" fill="#f6efea"/>
<rect x="242.3" y="438.36" width="15.43" height="7.15" fill="#a6c8e2"/>
<rect x="257.12" y="438.36" width="15.43" height="7.15" fill="#dbe7f2"/>
<rect x="271.95" y="438.36" width="15.43" height="7.15" fill="#dbe7f2"/>
<rect x="286.78" y="438.36" width="14.83" height="7.15" fill="#eef3f7"/>
<rect x="242.3" y="444.91" width="15.43" height="7.15" fill="#c3d9ec"/>
<rect x="257.12" y="444.91" width="15.43" height="7.15" fill="#dbe7f2"/>
<rect x="271.95" y="444.91" width="15.43" height="7.15" fill="#dbe7f2"/>
<rect x="286.78" y="444.91" width="14.83" height="7.15" fill="#eef3f7"/>
<rect x="242.3" y="451.45" width="15.43" height="6.55" fill="#eef3f7"/>
<rect x="257.12" y="451.45" width="15.43" height="6.55" fill="#dbe7f2"/>
<rect x="271.95" y="451.45" width="15.43" height="6.55" fill="#dbe7f2"/>
<rect x="286.78" y="451.45" width="14.83" height="6.55" fill="#eef3f7"/>
<rect x="242.3" y="458.6" width="15.43" height="7.12" fill="#c3d9ec"/>
<rect x="257.12" y="458.6" width="15.43" height="7.12" fill="#c3d9ec"/>
<rect x="271.95" y="458.6" width="15.43" height="7.12" fill="#dbe7f2"/>
<rect x="286.78" y="458.6" width="14.83" height="7.12" fill="#d5886b"/>
<rect x="242.3" y="465.12" width="15.43" height="7.12" fill="#e4a686"/>
<rect x="257.12" y="465.12" width="15.43" height="7.12" fill="#efc8ae"/>
<rect x="271.95" y="465.12" width="15.43" height="7.12" fill="#efc8ae"/>
<rect x="286.78" y="465.12" width="14.83" height="7.12" fill="#eef3f7"/>
<rect x="242.3" y="471.64" width="15.43" height="7.12" fill="#e4a686"/>
<rect x="257.12" y="471.64" width="15.43" height="7.12" fill="#f5e0d2"/>
<rect x="271.95" y="471.64" width="15.43" height="7.12" fill="#f5e0d2"/>
<rect x="286.78" y="471.64" width="14.83" height="7.12" fill="#dbe7f2"/>
<rect x="242.3" y="478.16" width="15.43" height="7.12" fill="#e4a686"/>
<rect x="257.12" y="478.16" width="15.43" height="7.12" fill="#e4a686"/>
<rect x="271.95" y="478.16" width="15.43" height="7.12" fill="#f5e0d2"/>
<rect x="286.78" y="478.16" width="14.83" height="7.12" fill="#c4654f"/>
<rect x="242.3" y="484.68" width="15.43" height="7.12" fill="#e4a686"/>
<rect x="257.12" y="484.68" width="15.43" height="7.12" fill="#a6c8e2"/>
<rect x="271.95" y="484.68" width="15.43" height="7.12" fill="#f6efea"/>
<rect x="286.78" y="484.68" width="14.83" height="7.12" fill="#dbe7f2"/>
<rect x="242.3" y="491.2" width="15.43" height="7.12" fill="#1a2d60"/>
<rect x="257.12" y="491.2" width="15.43" height="7.12" fill="#b0b0b0"/>
<rect x="271.95" y="491.2" width="15.43" height="7.12" fill="#c3d9ec"/>
<rect x="286.78" y="491.2" width="14.83" height="7.12" fill="#c3d9ec"/>
<rect x="242.3" y="497.72" width="15.43" height="7.12" fill="#f5e0d2"/>
<rect x="257.12" y="497.72" width="15.43" height="7.12" fill="#a6c8e2"/>
<rect x="271.95" y="497.72" width="15.43" height="7.12" fill="#c3d9ec"/>
<rect x="286.78" y="497.72" width="14.83" height="7.12" fill="#eef3f7"/>
<rect x="242.3" y="504.24" width="15.43" height="7.12" fill="#eef3f7"/>
<rect x="257.12" y="504.24" width="15.43" height="7.12" fill="#5a8fca"/>
<rect x="271.95" y="504.24" width="15.43" height="7.12" fill="#a6c8e2"/>
<rect x="286.78" y="504.24" width="14.83" height="7.12" fill="#c3d9ec"/>
<rect x="242.3" y="510.76" width="15.43" height="7.12" fill="#f5e0d2"/>
<rect x="257.12" y="510.76" width="15.43" height="7.12" fill="#f5e0d2"/>
<rect x="271.95" y="510.76" width="15.43" height="7.12" fill="#eef3f7"/>
<rect x="286.78" y="510.76" width="14.83" height="7.12" fill="#dbe7f2"/>
<rect x="242.3" y="517.28" width="15.43" height="7.12" fill="#f5e0d2"/>
<rect x="257.12" y="517.28" width="15.43" height="7.12" fill="#efc8ae"/>
<rect x="271.95" y="517.28" width="15.43" height="7.12" fill="#f6efea"/>
<rect x="286.78" y="517.28" width="14.83" height="7.12" fill="#eef3f7"/>
<rect x="242.3" y="523.8" width="15.43" height="7.12" fill="#efc8ae"/>
<rect x="257.12" y="523.8" width="15.43" height="7.12" fill="#78a8d5"/>
<rect x="271.95" y="523.8" width="15.43" height="7.12" fill="#f6efea"/>
<rect x="286.78" y="523.8" width="14.83" height="7.12" fill="#d5886b"/>
<rect x="242.3" y="530.32" width="15.43" height="7.12" fill="#f6efea"/>
<rect x="257.12" y="530.32" width="15.43" height="7.12" fill="#efc8ae"/>
<rect x="271.95" y="530.32" width="15.43" height="7.12" fill="#f6efea"/>
<rect x="286.78" y="530.32" width="14.83" height="7.12" fill="#dbe7f2"/>
<rect x="242.3" y="536.84" width="15.43" height="7.12" fill="#f5e0d2"/>
<rect x="257.12" y="536.84" width="15.43" height="7.12" fill="#4576bc"/>
<rect x="271.95" y="536.84" width="15.43" height="7.12" fill="#a6c8e2"/>
<rect x="286.78" y="536.84" width="14.83" height="7.12" fill="#dbe7f2"/>
<rect x="242.3" y="543.36" width="15.43" height="7.12" fill="#1a2d60"/>
<rect x="257.12" y="543.36" width="15.43" height="7.12" fill="#b0b0b0"/>
<rect x="271.95" y="543.36" width="15.43" height="7.12" fill="#a6c8e2"/>
<rect x="286.78" y="543.36" width="14.83" height="7.12" fill="#b0b0b0"/>
<rect x="242.3" y="549.88" width="15.43" height="6.52" fill="#4576bc"/>
<rect x="257.12" y="549.88" width="15.43" height="6.52" fill="#5a8fca"/>
<rect x="271.95" y="549.88" width="15.43" height="6.52" fill="#a6c8e2"/>
<rect x="286.78" y="549.88" width="14.83" height="6.52" fill="#eef3f7"/>
<rect x="302.9" y="260.8" width="15.43" height="7.16" fill="#c4654f"/>
<rect x="317.72" y="260.8" width="15.43" height="7.16" fill="#b3453f"/>
<rect x="332.55" y="260.8" width="15.43" height="7.16" fill="#c4654f"/>
<rect x="347.38" y="260.8" width="14.83" height="7.16" fill="#e4a686"/>
<rect x="302.9" y="267.36" width="15.43" height="7.16" fill="#e4a686"/>
<rect x="317.72" y="267.36" width="15.43" height="7.16" fill="#d5886b"/>
<rect x="332.55" y="267.36" width="15.43" height="7.16" fill="#c4654f"/>
<rect x="347.38" y="267.36" width="14.83" height="7.16" fill="#b3453f"/>
<rect x="302.9" y="273.92" width="15.43" height="7.16" fill="#c4654f"/>
<rect x="317.72" y="273.92" width="15.43" height="7.16" fill="#c4654f"/>
<rect x="332.55" y="273.92" width="15.43" height="7.16" fill="#c4654f"/>
<rect x="347.38" y="273.92" width="14.83" height="7.16" fill="#d5886b"/>
<rect x="302.9" y="280.48" width="15.43" height="7.16" fill="#d5886b"/>
<rect x="317.72" y="280.48" width="15.43" height="7.16" fill="#c4654f"/>
<rect x="332.55" y="280.48" width="15.43" height="7.16" fill="#c4654f"/>
<rect x="347.38" y="280.48" width="14.83" height="7.16" fill="#d5886b"/>
<rect x="302.9" y="287.04" width="15.43" height="7.16" fill="#c4654f"/>
<rect x="317.72" y="287.04" width="15.43" height="7.16" fill="#e4a686"/>
<rect x="332.55" y="287.04" width="15.43" height="7.16" fill="#c4654f"/>
<rect x="347.38" y="287.04" width="14.83" height="7.16" fill="#d5886b"/>
<rect x="302.9" y="293.6" width="15.43" height="7.16" fill="#c4654f"/>
<rect x="317.72" y="293.6" width="15.43" height="7.16" fill="#f5e0d2"/>
<rect x="332.55" y="293.6" width="15.43" height="7.16" fill="#c4654f"/>
<rect x="347.38" y="293.6" width="14.83" height="7.16" fill="#c4654f"/>
<rect x="302.9" y="300.16" width="15.43" height="7.16" fill="#c4654f"/>
<rect x="317.72" y="300.16" width="15.43" height="7.16" fill="#e4a686"/>
<rect x="332.55" y="300.16" width="15.43" height="7.16" fill="#c4654f"/>
<rect x="347.38" y="300.16" width="14.83" height="7.16" fill="#d5886b"/>
<rect x="302.9" y="306.72" width="15.43" height="7.16" fill="#c4654f"/>
<rect x="317.72" y="306.72" width="15.43" height="7.16" fill="#c4654f"/>
<rect x="332.55" y="306.72" width="15.43" height="7.16" fill="#d5886b"/>
<rect x="347.38" y="306.72" width="14.83" height="7.16" fill="#c4654f"/>
<rect x="302.9" y="313.28" width="15.43" height="7.16" fill="#f5e0d2"/>
<rect x="317.72" y="313.28" width="15.43" height="7.16" fill="#d5886b"/>
<rect x="332.55" y="313.28" width="15.43" height="7.16" fill="#d5886b"/>
<rect x="347.38" y="313.28" width="14.83" height="7.16" fill="#d5886b"/>
<rect x="302.9" y="319.84" width="15.43" height="7.16" fill="#c4654f"/>
<rect x="317.72" y="319.84" width="15.43" height="7.16" fill="#e4a686"/>
<rect x="332.55" y="319.84" width="15.43" height="7.16" fill="#d5886b"/>
<rect x="347.38" y="319.84" width="14.83" height="7.16" fill="#e4a686"/>
<rect x="302.9" y="326.4" width="15.43" height="7.16" fill="#d5886b"/>
<rect x="317.72" y="326.4" width="15.43" height="7.16" fill="#d5886b"/>
<rect x="332.55" y="326.4" width="15.43" height="7.16" fill="#d5886b"/>
<rect x="347.38" y="326.4" width="14.83" height="7.16" fill="#d5886b"/>
<rect x="302.9" y="332.96" width="15.43" height="7.16" fill="#c4654f"/>
<rect x="317.72" y="332.96" width="15.43" height="7.16" fill="#e4a686"/>
<rect x="332.55" y="332.96" width="15.43" height="7.16" fill="#d5886b"/>
<rect x="347.38" y="332.96" width="14.83" height="7.16" fill="#e4a686"/>
<rect x="302.9" y="339.52" width="15.43" height="7.16" fill="#c4654f"/>
<rect x="317.72" y="339.52" width="15.43" height="7.16" fill="#d5886b"/>
<rect x="332.55" y="339.52" width="15.43" height="7.16" fill="#d5886b"/>
<rect x="347.38" y="339.52" width="14.83" height="7.16" fill="#c4654f"/>
<rect x="302.9" y="346.08" width="15.43" height="7.16" fill="#c4654f"/>
<rect x="317.72" y="346.08" width="15.43" height="7.16" fill="#e4a686"/>
<rect x="332.55" y="346.08" width="15.43" height="7.16" fill="#d5886b"/>
<rect x="347.38" y="346.08" width="14.83" height="7.16" fill="#eef3f7"/>
<rect x="302.9" y="352.64" width="15.43" height="6.56" fill="#f5e0d2"/>
<rect x="317.72" y="352.64" width="15.43" height="6.56" fill="#e4a686"/>
<rect x="332.55" y="352.64" width="15.43" height="6.56" fill="#d5886b"/>
<rect x="347.38" y="352.64" width="14.83" height="6.56" fill="#c4654f"/>
<rect x="302.9" y="359.8" width="15.43" height="7.15" fill="#f5e0d2"/>
<rect x="317.72" y="359.8" width="15.43" height="7.15" fill="#eef3f7"/>
<rect x="332.55" y="359.8" width="15.43" height="7.15" fill="#efc8ae"/>
<rect x="347.38" y="359.8" width="14.83" height="7.15" fill="#f5e0d2"/>
<rect x="302.9" y="366.35" width="15.43" height="7.15" fill="#dbe7f2"/>
<rect x="317.72" y="366.35" width="15.43" height="7.15" fill="#f6efea"/>
<rect x="332.55" y="366.35" width="15.43" height="7.15" fill="#efc8ae"/>
<rect x="347.38" y="366.35" width="14.83" height="7.15" fill="#efc8ae"/>
<rect x="302.9" y="372.89" width="15.43" height="7.15" fill="#e4a686"/>
<rect x="317.72" y="372.89" width="15.43" height="7.15" fill="#efc8ae"/>
<rect x="332.55" y="372.89" width="15.43" height="7.15" fill="#efc8ae"/>
<rect x="347.38" y="372.89" width="14.83" height="7.15" fill="#f5e0d2"/>
<rect x="302.9" y="379.44" width="15.43" height="7.15" fill="#e4a686"/>
<rect x="317.72" y="379.44" width="15.43" height="7.15" fill="#f5e0d2"/>
<rect x="332.55" y="379.44" width="15.43" height="7.15" fill="#e4a686"/>
<rect x="347.38" y="379.44" width="14.83" height="7.15" fill="#f5e0d2"/>
<rect x="302.9" y="385.99" width="15.43" height="7.15" fill="#f5e0d2"/>
<rect x="317.72" y="385.99" width="15.43" height="7.15" fill="#f6efea"/>
<rect x="332.55" y="385.99" width="15.43" height="7.15" fill="#f6efea"/>
<rect x="347.38" y="385.99" width="14.83" height="7.15" fill="#f5e0d2"/>
<rect x="302.9" y="392.53" width="15.43" height="7.15" fill="#e4a686"/>
<rect x="317.72" y="392.53" width="15.43" height="7.15" fill="#f6efea"/>
<rect x="332.55" y="392.53" width="15.43" height="7.15" fill="#efc8ae"/>
<rect x="347.38" y="392.53" width="14.83" height="7.15" fill="#f5e0d2"/>
<rect x="302.9" y="399.08" width="15.43" height="7.15" fill="#e4a686"/>
<rect x="317.72" y="399.08" width="15.43" height="7.15" fill="#e4a686"/>
<rect x="332.55" y="399.08" width="15.43" height="7.15" fill="#e4a686"/>
<rect x="347.38" y="399.08" width="14.83" height="7.15" fill="#f6efea"/>
<rect x="302.9" y="405.63" width="15.43" height="7.15" fill="#c3d9ec"/>
<rect x="317.72" y="405.63" width="15.43" height="7.15" fill="#f6efea"/>
<rect x="332.55" y="405.63" width="15.43" height="7.15" fill="#efc8ae"/>
<rect x="347.38" y="405.63" width="14.83" height="7.15" fill="#e4a686"/>
<rect x="302.9" y="412.17" width="15.43" height="7.15" fill="#dbe7f2"/>
<rect x="317.72" y="412.17" width="15.43" height="7.15" fill="#f6efea"/>
<rect x="332.55" y="412.17" width="15.43" height="7.15" fill="#f5e0d2"/>
<rect x="347.38" y="412.17" width="14.83" height="7.15" fill="#f6efea"/>
<rect x="302.9" y="418.72" width="15.43" height="7.15" fill="#efc8ae"/>
<rect x="317.72" y="418.72" width="15.43" height="7.15" fill="#eef3f7"/>
<rect x="332.55" y="418.72" width="15.43" height="7.15" fill="#efc8ae"/>
<rect x="347.38" y="418.72" width="14.83" height="7.15" fill="#e4a686"/>
<rect x="302.9" y="425.27" width="15.43" height="7.15" fill="#efc8ae"/>
<rect x="317.72" y="425.27" width="15.43" height="7.15" fill="#e4a686"/>
<rect x="332.55" y="425.27" width="15.43" height="7.15" fill="#eef3f7"/>
<rect x="347.38" y="425.27" width="14.83" height="7.15" fill="#f5e0d2"/>
<rect x="302.9" y="431.81" width="15.43" height="7.15" fill="#a6c8e2"/>
<rect x="317.72" y="431.81" width="15.43" height="7.15" fill="#f6efea"/>
<rect x="332.55" y="431.81" width="15.43" height="7.15" fill="#f5e0d2"/>
<rect x="347.38" y="431.81" width="14.83" height="7.15" fill="#e4a686"/>
<rect x="302.9" y="438.36" width="15.43" height="7.15" fill="#f5e0d2"/>
<rect x="317.72" y="438.36" width="15.43" height="7.15" fill="#f6efea"/>
<rect x="332.55" y="438.36" width="15.43" height="7.15" fill="#f6efea"/>
<rect x="347.38" y="438.36" width="14.83" height="7.15" fill="#f6efea"/>
<rect x="302.9" y="444.91" width="15.43" height="7.15" fill="#f5e0d2"/>
<rect x="317.72" y="444.91" width="15.43" height="7.15" fill="#f6efea"/>
<rect x="332.55" y="444.91" width="15.43" height="7.15" fill="#f6efea"/>
<rect x="347.38" y="444.91" width="14.83" height="7.15" fill="#f5e0d2"/>
<rect x="302.9" y="451.45" width="15.43" height="6.55" fill="#f5e0d2"/>
<rect x="317.72" y="451.45" width="15.43" height="6.55" fill="#eef3f7"/>
<rect x="332.55" y="451.45" width="15.43" height="6.55" fill="#f6efea"/>
<rect x="347.38" y="451.45" width="14.83" height="6.55" fill="#f5e0d2"/>
<rect x="302.9" y="458.6" width="15.43" height="7.12" fill="#e4a686"/>
<rect x="317.72" y="458.6" width="15.43" height="7.12" fill="#f5e0d2"/>
<rect x="332.55" y="458.6" width="15.43" height="7.12" fill="#f5e0d2"/>
<rect x="347.38" y="458.6" width="14.83" height="7.12" fill="#eef3f7"/>
<rect x="302.9" y="465.12" width="15.43" height="7.12" fill="#e4a686"/>
<rect x="317.72" y="465.12" width="15.43" height="7.12" fill="#eef3f7"/>
<rect x="332.55" y="465.12" width="15.43" height="7.12" fill="#a6c8e2"/>
<rect x="347.38" y="465.12" width="14.83" height="7.12" fill="#dbe7f2"/>
<rect x="302.9" y="471.64" width="15.43" height="7.12" fill="#d5886b"/>
<rect x="317.72" y="471.64" width="15.43" height="7.12" fill="#eef3f7"/>
<rect x="332.55" y="471.64" width="15.43" height="7.12" fill="#a6c8e2"/>
<rect x="347.38" y="471.64" width="14.83" height="7.12" fill="#c3d9ec"/>
<rect x="302.9" y="478.16" width="15.43" height="7.12" fill="#e4a686"/>
<rect x="317.72" y="478.16" width="15.43" height="7.12" fill="#dbe7f2"/>
<rect x="332.55" y="478.16" width="15.43" height="7.12" fill="#efc8ae"/>
<rect x="347.38" y="478.16" width="14.83" height="7.12" fill="#dbe7f2"/>
<rect x="302.9" y="484.68" width="15.43" height="7.12" fill="#e4a686"/>
<rect x="317.72" y="484.68" width="15.43" height="7.12" fill="#eef3f7"/>
<rect x="332.55" y="484.68" width="15.43" height="7.12" fill="#78a8d5"/>
<rect x="347.38" y="484.68" width="14.83" height="7.12" fill="#c3d9ec"/>
<rect x="302.9" y="491.2" width="15.43" height="7.12" fill="#284a8e"/>
<rect x="317.72" y="491.2" width="15.43" height="7.12" fill="#b0b0b0"/>
<rect x="332.55" y="491.2" width="15.43" height="7.12" fill="#78a8d5"/>
<rect x="347.38" y="491.2" width="14.83" height="7.12" fill="#78a8d5"/>
<rect x="302.9" y="497.72" width="15.43" height="7.12" fill="#efc8ae"/>
<rect x="317.72" y="497.72" width="15.43" height="7.12" fill="#eef3f7"/>
<rect x="332.55" y="497.72" width="15.43" height="7.12" fill="#f5e0d2"/>
<rect x="347.38" y="497.72" width="14.83" height="7.12" fill="#dbe7f2"/>
<rect x="302.9" y="504.24" width="15.43" height="7.12" fill="#5a8fca"/>
<rect x="317.72" y="504.24" width="15.43" height="7.12" fill="#dbe7f2"/>
<rect x="332.55" y="504.24" width="15.43" height="7.12" fill="#78a8d5"/>
<rect x="347.38" y="504.24" width="14.83" height="7.12" fill="#a6c8e2"/>
<rect x="302.9" y="510.76" width="15.43" height="7.12" fill="#efc8ae"/>
<rect x="317.72" y="510.76" width="15.43" height="7.12" fill="#dbe7f2"/>
<rect x="332.55" y="510.76" width="15.43" height="7.12" fill="#f5e0d2"/>
<rect x="347.38" y="510.76" width="14.83" height="7.12" fill="#c3d9ec"/>
<rect x="302.9" y="517.28" width="15.43" height="7.12" fill="#e4a686"/>
<rect x="317.72" y="517.28" width="15.43" height="7.12" fill="#eef3f7"/>
<rect x="332.55" y="517.28" width="15.43" height="7.12" fill="#78a8d5"/>
<rect x="347.38" y="517.28" width="14.83" height="7.12" fill="#c3d9ec"/>
<rect x="302.9" y="523.8" width="15.43" height="7.12" fill="#efc8ae"/>
<rect x="317.72" y="523.8" width="15.43" height="7.12" fill="#dbe7f2"/>
<rect x="332.55" y="523.8" width="15.43" height="7.12" fill="#f5e0d2"/>
<rect x="347.38" y="523.8" width="14.83" height="7.12" fill="#c3d9ec"/>
<rect x="302.9" y="530.32" width="15.43" height="7.12" fill="#5a8fca"/>
<rect x="317.72" y="530.32" width="15.43" height="7.12" fill="#c3d9ec"/>
<rect x="332.55" y="530.32" width="15.43" height="7.12" fill="#78a8d5"/>
<rect x="347.38" y="530.32" width="14.83" height="7.12" fill="#c3d9ec"/>
<rect x="302.9" y="536.84" width="15.43" height="7.12" fill="#f5e0d2"/>
<rect x="317.72" y="536.84" width="15.43" height="7.12" fill="#c3d9ec"/>
<rect x="332.55" y="536.84" width="15.43" height="7.12" fill="#78a8d5"/>
<rect x="347.38" y="536.84" width="14.83" height="7.12" fill="#c3d9ec"/>
<rect x="302.9" y="543.36" width="15.43" height="7.12" fill="#284a8e"/>
<rect x="317.72" y="543.36" width="15.43" height="7.12" fill="#b0b0b0"/>
<rect x="332.55" y="543.36" width="15.43" height="7.12" fill="#78a8d5"/>
<rect x="347.38" y="543.36" width="14.83" height="7.12" fill="#b0b0b0"/>
<rect x="302.9" y="549.88" width="15.43" height="6.52" fill="#5a8fca"/>
<rect x="317.72" y="549.88" width="15.43" height="6.52" fill="#dbe7f2"/>
<rect x="332.55" y="549.88" width="15.43" height="6.52" fill="#78a8d5"/>
<rect x="347.38" y="549.88" width="14.83" height="6.52" fill="#dbe7f2"/>
<rect x="363" y="260.8" width="15.47" height="7.16" fill="#e4a686"/>
<rect x="377.88" y="260.8" width="15.47" height="7.16" fill="#c4654f"/>
<rect x="392.75" y="260.8" width="15.47" height="7.16" fill="#d5886b"/>
<rect x="407.62" y="260.8" width="14.88" height="7.16" fill="#d5886b"/>
<rect x="363" y="267.36" width="15.47" height="7.16" fill="#eef3f7"/>
<rect x="377.88" y="267.36" width="15.47" height="7.16" fill="#e4a686"/>
<rect x="392.75" y="267.36" width="15.47" height="7.16" fill="#efc8ae"/>
<rect x="407.62" y="267.36" width="14.88" height="7.16" fill="#e4a686"/>
<rect x="363" y="273.92" width="15.47" height="7.16" fill="#f5e0d2"/>
<rect x="377.88" y="273.92" width="15.47" height="7.16" fill="#efc8ae"/>
<rect x="392.75" y="273.92" width="15.47" height="7.16" fill="#e4a686"/>
<rect x="407.62" y="273.92" width="14.88" height="7.16" fill="#eef3f7"/>
<rect x="363" y="280.48" width="15.47" height="7.16" fill="#f5e0d2"/>
<rect x="377.88" y="280.48" width="15.47" height="7.16" fill="#f5e0d2"/>
<rect x="392.75" y="280.48" width="15.47" height="7.16" fill="#efc8ae"/>
<rect x="407.62" y="280.48" width="14.88" height="7.16" fill="#f5e0d2"/>
<rect x="363" y="287.04" width="15.47" height="7.16" fill="#f5e0d2"/>
<rect x="377.88" y="287.04" width="15.47" height="7.16" fill="#d5886b"/>
<rect x="392.75" y="287.04" width="15.47" height="7.16" fill="#d5886b"/>
<rect x="407.62" y="287.04" width="14.88" height="7.16" fill="#e4a686"/>
<rect x="363" y="293.6" width="15.47" height="7.16" fill="#efc8ae"/>
<rect x="377.88" y="293.6" width="15.47" height="7.16" fill="#c4654f"/>
<rect x="392.75" y="293.6" width="15.47" height="7.16" fill="#d5886b"/>
<rect x="407.62" y="293.6" width="14.88" height="7.16" fill="#e4a686"/>
<rect x="363" y="300.16" width="15.47" height="7.16" fill="#f5e0d2"/>
<rect x="377.88" y="300.16" width="15.47" height="7.16" fill="#d5886b"/>
<rect x="392.75" y="300.16" width="15.47" height="7.16" fill="#d5886b"/>
<rect x="407.62" y="300.16" width="14.88" height="7.16" fill="#e4a686"/>
<rect x="363" y="306.72" width="15.47" height="7.16" fill="#f6efea"/>
<rect x="377.88" y="306.72" width="15.47" height="7.16" fill="#efc8ae"/>
<rect x="392.75" y="306.72" width="15.47" height="7.16" fill="#efc8ae"/>
<rect x="407.62" y="306.72" width="14.88" height="7.16" fill="#efc8ae"/>
<rect x="363" y="313.28" width="15.47" height="7.16" fill="#f6efea"/>
<rect x="377.88" y="313.28" width="15.47" height="7.16" fill="#d5886b"/>
<rect x="392.75" y="313.28" width="15.47" height="7.16" fill="#e4a686"/>
<rect x="407.62" y="313.28" width="14.88" height="7.16" fill="#efc8ae"/>
<rect x="363" y="319.84" width="15.47" height="7.16" fill="#efc8ae"/>
<rect x="377.88" y="319.84" width="15.47" height="7.16" fill="#c4654f"/>
<rect x="392.75" y="319.84" width="15.47" height="7.16" fill="#e4a686"/>
<rect x="407.62" y="319.84" width="14.88" height="7.16" fill="#e4a686"/>
<rect x="363" y="326.4" width="15.47" height="7.16" fill="#f5e0d2"/>
<rect x="377.88" y="326.4" width="15.47" height="7.16" fill="#d5886b"/>
<rect x="392.75" y="326.4" width="15.47" height="7.16" fill="#e4a686"/>
<rect x="407.62" y="326.4" width="14.88" height="7.16" fill="#d5886b"/>
<rect x="363" y="332.96" width="15.47" height="7.16" fill="#f5e0d2"/>
<rect x="377.88" y="332.96" width="15.47" height="7.16" fill="#e4a686"/>
<rect x="392.75" y="332.96" width="15.47" height="7.16" fill="#efc8ae"/>
<rect x="407.62" y="332.96" width="14.88" height="7.16" fill="#f5e0d2"/>
<rect x="363" y="339.52" width="15.47" height="7.16" fill="#f5e0d2"/>
<rect x="377.88" y="339.52" width="15.47" height="7.16" fill="#d5886b"/>
<rect x="392.75" y="339.52" width="15.47" height="7.16" fill="#e4a686"/>
<rect x="407.62" y="339.52" width="14.88" height="7.16" fill="#e4a686"/>
<rect x="363" y="346.08" width="15.47" height="7.16" fill="#f5e0d2"/>
<rect x="377.88" y="346.08" width="15.47" height="7.16" fill="#d5886b"/>
<rect x="392.75" y="346.08" width="15.47" height="7.16" fill="#e4a686"/>
<rect x="407.62" y="346.08" width="14.88" height="7.16" fill="#e4a686"/>
<rect x="363" y="352.64" width="15.47" height="6.56" fill="#78a8d5"/>
<rect x="377.88" y="352.64" width="15.47" height="6.56" fill="#efc8ae"/>
<rect x="392.75" y="352.64" width="15.47" height="6.56" fill="#f5e0d2"/>
<rect x="407.62" y="352.64" width="14.88" height="6.56" fill="#dbe7f2"/>
<rect x="363" y="359.8" width="15.47" height="7.15" fill="#eef3f7"/>
<rect x="377.88" y="359.8" width="15.47" height="7.15" fill="#dbe7f2"/>
<rect x="392.75" y="359.8" width="15.47" height="7.15" fill="#f6efea"/>
<rect x="407.62" y="359.8" width="14.88" height="7.15" fill="#dbe7f2"/>
<rect x="363" y="366.35" width="15.47" height="7.15" fill="#c3d9ec"/>
<rect x="377.88" y="366.35" width="15.47" height="7.15" fill="#dbe7f2"/>
<rect x="392.75" y="366.35" width="15.47" height="7.15" fill="#f5e0d2"/>
<rect x="407.62" y="366.35" width="14.88" height="7.15" fill="#eef3f7"/>
<rect x="363" y="372.89" width="15.47" height="7.15" fill="#dbe7f2"/>
<rect x="377.88" y="372.89" width="15.47" height="7.15" fill="#dbe7f2"/>
<rect x="392.75" y="372.89" width="15.47" height="7.15" fill="#f5e0d2"/>
<rect x="407.62" y="372.89" width="14.88" height="7.15" fill="#eef3f7"/>
<rect x="363" y="379.44" width="15.47" height="7.15" fill="#eef3f7"/>
<rect x="377.88" y="379.44" width="15.47" height="7.15" fill="#f5e0d2"/>
<rect x="392.75" y="379.44" width="15.47" height="7.15" fill="#f6efea"/>
<rect x="407.62" y="379.44" width="14.88" height="7.15" fill="#a6c8e2"/>
<rect x="363" y="385.99" width="15.47" height="7.15" fill="#dbe7f2"/>
<rect x="377.88" y="385.99" width="15.47" height="7.15" fill="#dbe7f2"/>
<rect x="392.75" y="385.99" width="15.47" height="7.15" fill="#f5e0d2"/>
<rect x="407.62" y="385.99" width="14.88" height="7.15" fill="#eef3f7"/>
<rect x="363" y="392.53" width="15.47" height="7.15" fill="#f6efea"/>
<rect x="377.88" y="392.53" width="15.47" height="7.15" fill="#dbe7f2"/>
<rect x="392.75" y="392.53" width="15.47" height="7.15" fill="#f5e0d2"/>
<rect x="407.62" y="392.53" width="14.88" height="7.15" fill="#dbe7f2"/>
<rect x="363" y="399.08" width="15.47" height="7.15" fill="#eef3f7"/>
<rect x="377.88" y="399.08" width="15.47" height="7.15" fill="#c3d9ec"/>
<rect x="392.75" y="399.08" width="15.47" height="7.15" fill="#f6efea"/>
<rect x="407.62" y="399.08" width="14.88" height="7.15" fill="#dbe7f2"/>
<rect x="363" y="405.63" width="15.47" height="7.15" fill="#a6c8e2"/>
<rect x="377.88" y="405.63" width="15.47" height="7.15" fill="#c3d9ec"/>
<rect x="392.75" y="405.63" width="15.47" height="7.15" fill="#f6efea"/>
<rect x="407.62" y="405.63" width="14.88" height="7.15" fill="#eef3f7"/>
<rect x="363" y="412.17" width="15.47" height="7.15" fill="#a6c8e2"/>
<rect x="377.88" y="412.17" width="15.47" height="7.15" fill="#dbe7f2"/>
<rect x="392.75" y="412.17" width="15.47" height="7.15" fill="#f6efea"/>
<rect x="407.62" y="412.17" width="14.88" height="7.15" fill="#dbe7f2"/>
<rect x="363" y="418.72" width="15.47" height="7.15" fill="#c3d9ec"/>
<rect x="377.88" y="418.72" width="15.47" height="7.15" fill="#c3d9ec"/>
<rect x="392.75" y="418.72" width="15.47" height="7.15" fill="#f6efea"/>
<rect x="407.62" y="418.72" width="14.88" height="7.15" fill="#dbe7f2"/>
<rect x="363" y="425.27" width="15.47" height="7.15" fill="#eef3f7"/>
<rect x="377.88" y="425.27" width="15.47" height="7.15" fill="#dbe7f2"/>
<rect x="392.75" y="425.27" width="15.47" height="7.15" fill="#f6efea"/>
<rect x="407.62" y="425.27" width="14.88" height="7.15" fill="#dbe7f2"/>
<rect x="363" y="431.81" width="15.47" height="7.15" fill="#a6c8e2"/>
<rect x="377.88" y="431.81" width="15.47" height="7.15" fill="#dbe7f2"/>
<rect x="392.75" y="431.81" width="15.47" height="7.15" fill="#f6efea"/>
<rect x="407.62" y="431.81" width="14.88" height="7.15" fill="#eef3f7"/>
<rect x="363" y="438.36" width="15.47" height="7.15" fill="#a6c8e2"/>
<rect x="377.88" y="438.36" width="15.47" height="7.15" fill="#c3d9ec"/>
<rect x="392.75" y="438.36" width="15.47" height="7.15" fill="#f6efea"/>
<rect x="407.62" y="438.36" width="14.88" height="7.15" fill="#eef3f7"/>
<rect x="363" y="444.91" width="15.47" height="7.15" fill="#c3d9ec"/>
<rect x="377.88" y="444.91" width="15.47" height="7.15" fill="#c3d9ec"/>
<rect x="392.75" y="444.91" width="15.47" height="7.15" fill="#f6efea"/>
<rect x="407.62" y="444.91" width="14.88" height="7.15" fill="#dbe7f2"/>
<rect x="363" y="451.45" width="15.47" height="6.55" fill="#78a8d5"/>
<rect x="377.88" y="451.45" width="15.47" height="6.55" fill="#c3d9ec"/>
<rect x="392.75" y="451.45" width="15.47" height="6.55" fill="#f6efea"/>
<rect x="407.62" y="451.45" width="14.88" height="6.55" fill="#dbe7f2"/>
<rect x="363" y="458.6" width="15.47" height="7.12" fill="#e4a686"/>
<rect x="377.88" y="458.6" width="15.47" height="7.12" fill="#a83437"/>
<rect x="392.75" y="458.6" width="15.47" height="7.12" fill="#d5886b"/>
<rect x="407.62" y="458.6" width="14.88" height="7.12" fill="#d5886b"/>
<rect x="363" y="465.12" width="15.47" height="7.12" fill="#e4a686"/>
<rect x="377.88" y="465.12" width="15.47" height="7.12" fill="#d5886b"/>
<rect x="392.75" y="465.12" width="15.47" height="7.12" fill="#e4a686"/>
<rect x="407.62" y="465.12" width="14.88" height="7.12" fill="#e4a686"/>
<rect x="363" y="471.64" width="15.47" height="7.12" fill="#e4a686"/>
<rect x="377.88" y="471.64" width="15.47" height="7.12" fill="#d5886b"/>
<rect x="392.75" y="471.64" width="15.47" height="7.12" fill="#e4a686"/>
<rect x="407.62" y="471.64" width="14.88" height="7.12" fill="#efc8ae"/>
<rect x="363" y="478.16" width="15.47" height="7.12" fill="#efc8ae"/>
<rect x="377.88" y="478.16" width="15.47" height="7.12" fill="#e4a686"/>
<rect x="392.75" y="478.16" width="15.47" height="7.12" fill="#e4a686"/>
<rect x="407.62" y="478.16" width="14.88" height="7.12" fill="#e4a686"/>
<rect x="363" y="484.68" width="15.47" height="7.12" fill="#e4a686"/>
<rect x="377.88" y="484.68" width="15.47" height="7.12" fill="#d5886b"/>
<rect x="392.75" y="484.68" width="15.47" height="7.12" fill="#e4a686"/>
<rect x="407.62" y="484.68" width="14.88" height="7.12" fill="#e4a686"/>
<rect x="363" y="491.2" width="15.47" height="7.12" fill="#eef3f7"/>
<rect x="377.88" y="491.2" width="15.47" height="7.12" fill="#b0b0b0"/>
<rect x="392.75" y="491.2" width="15.47" height="7.12" fill="#e4a686"/>
<rect x="407.62" y="491.2" width="14.88" height="7.12" fill="#f5e0d2"/>
<rect x="363" y="497.72" width="15.47" height="7.12" fill="#efc8ae"/>
<rect x="377.88" y="497.72" width="15.47" height="7.12" fill="#d5886b"/>
<rect x="392.75" y="497.72" width="15.47" height="7.12" fill="#efc8ae"/>
<rect x="407.62" y="497.72" width="14.88" height="7.12" fill="#e4a686"/>
<rect x="363" y="504.24" width="15.47" height="7.12" fill="#efc8ae"/>
<rect x="377.88" y="504.24" width="15.47" height="7.12" fill="#e4a686"/>
<rect x="392.75" y="504.24" width="15.47" height="7.12" fill="#e4a686"/>
<rect x="407.62" y="504.24" width="14.88" height="7.12" fill="#f5e0d2"/>
<rect x="363" y="510.76" width="15.47" height="7.12" fill="#f5e0d2"/>
<rect x="377.88" y="510.76" width="15.47" height="7.12" fill="#e4a686"/>
<rect x="392.75" y="510.76" width="15.47" height="7.12" fill="#efc8ae"/>
<rect x="407.62" y="510.76" width="14.88" height="7.12" fill="#efc8ae"/>
<rect x="363" y="517.28" width="15.47" height="7.12" fill="#efc8ae"/>
<rect x="377.88" y="517.28" width="15.47" height="7.12" fill="#d5886b"/>
<rect x="392.75" y="517.28" width="15.47" height="7.12" fill="#efc8ae"/>
<rect x="407.62" y="517.28" width="14.88" height="7.12" fill="#e4a686"/>
<rect x="363" y="523.8" width="15.47" height="7.12" fill="#efc8ae"/>
<rect x="377.88" y="523.8" width="15.47" height="7.12" fill="#e4a686"/>
<rect x="392.75" y="523.8" width="15.47" height="7.12" fill="#efc8ae"/>
<rect x="407.62" y="523.8" width="14.88" height="7.12" fill="#efc8ae"/>
<rect x="363" y="530.32" width="15.47" height="7.12" fill="#eef3f7"/>
<rect x="377.88" y="530.32" width="15.47" height="7.12" fill="#efc8ae"/>
<rect x="392.75" y="530.32" width="15.47" height="7.12" fill="#efc8ae"/>
<rect x="407.62" y="530.32" width="14.88" height="7.12" fill="#efc8ae"/>
<rect x="363" y="536.84" width="15.47" height="7.12" fill="#f5e0d2"/>
<rect x="377.88" y="536.84" width="15.47" height="7.12" fill="#efc8ae"/>
<rect x="392.75" y="536.84" width="15.47" height="7.12" fill="#efc8ae"/>
<rect x="407.62" y="536.84" width="14.88" height="7.12" fill="#efc8ae"/>
<rect x="363" y="543.36" width="15.47" height="7.12" fill="#eef3f7"/>
<rect x="377.88" y="543.36" width="15.47" height="7.12" fill="#b0b0b0"/>
<rect x="392.75" y="543.36" width="15.47" height="7.12" fill="#efc8ae"/>
<rect x="407.62" y="543.36" width="14.88" height="7.12" fill="#b0b0b0"/>
<rect x="363" y="549.88" width="15.47" height="6.52" fill="#efc8ae"/>
<rect x="377.88" y="549.88" width="15.47" height="6.52" fill="#e4a686"/>
<rect x="392.75" y="549.88" width="15.47" height="6.52" fill="#efc8ae"/>
<rect x="407.62" y="549.88" width="14.88" height="6.52" fill="#e4a686"/>
</g>
<rect x="111.7" y="260.8" width="8.2" height="98.7" fill="#4f2462"/>
<rect x="111.7" y="359.5" width="8.2" height="98.7" fill="#2d4a7c"/>
<rect x="111.7" y="458.2" width="8.2" height="98.2" fill="#a6002a"/>
<text x="122" y="255.4" font-size="10" text-anchor="start" font-weight="normal" fill="#2e2e2e" textLength="52.9" lengthAdjust="spacingAndGlyphs">Granulocytes</text>
<text x="193" y="255.4" font-size="10" text-anchor="start" font-weight="normal" fill="#2e2e2e" textLength="44.4" lengthAdjust="spacingAndGlyphs">Monocytes</text>
<text x="263.5" y="255.4" font-size="10" text-anchor="start" font-weight="normal" fill="#2e2e2e" textLength="26.3" lengthAdjust="spacingAndGlyphs">B cells</text>
<text x="315.5" y="255.4" font-size="10" text-anchor="start" font-weight="normal" fill="#2e2e2e" textLength="32.4" lengthAdjust="spacingAndGlyphs">NK cells</text>
<text x="383" y="255.4" font-size="10" text-anchor="start" font-weight="normal" fill="#2e2e2e" textLength="24.8" lengthAdjust="spacingAndGlyphs">T cells</text>
<text x="127.43" y="567" font-size="9.2" text-anchor="middle" font-weight="normal" fill="#2e2e2e">12</text>
<text x="142.47" y="567" font-size="9.2" text-anchor="middle" font-weight="normal" fill="#2e2e2e">36</text>
<text x="157.53" y="567" font-size="9.2" text-anchor="middle" font-weight="normal" fill="#2e2e2e">48</text>
<text x="172.57" y="567" font-size="9.2" text-anchor="middle" font-weight="normal" fill="#2e2e2e">60</text>
<text x="188.94" y="567" font-size="9.2" text-anchor="middle" font-weight="normal" fill="#2e2e2e">12</text>
<text x="203.81" y="567" font-size="9.2" text-anchor="middle" font-weight="normal" fill="#2e2e2e">36</text>
<text x="218.69" y="567" font-size="9.2" text-anchor="middle" font-weight="normal" fill="#2e2e2e">48</text>
<text x="233.56" y="567" font-size="9.2" text-anchor="middle" font-weight="normal" fill="#2e2e2e">60</text>
<text x="249.71" y="567" font-size="9.2" text-anchor="middle" font-weight="normal" fill="#2e2e2e">12</text>
<text x="264.54" y="567" font-size="9.2" text-anchor="middle" font-weight="normal" fill="#2e2e2e">36</text>
<text x="279.36" y="567" font-size="9.2" text-anchor="middle" font-weight="normal" fill="#2e2e2e">48</text>
<text x="294.19" y="567" font-size="9.2" text-anchor="middle" font-weight="normal" fill="#2e2e2e">60</text>
<text x="310.31" y="567" font-size="9.2" text-anchor="middle" font-weight="normal" fill="#2e2e2e">12</text>
<text x="325.14" y="567" font-size="9.2" text-anchor="middle" font-weight="normal" fill="#2e2e2e">36</text>
<text x="339.96" y="567" font-size="9.2" text-anchor="middle" font-weight="normal" fill="#2e2e2e">48</text>
<text x="354.79" y="567" font-size="9.2" text-anchor="middle" font-weight="normal" fill="#2e2e2e">60</text>
<text x="370.44" y="567" font-size="9.2" text-anchor="middle" font-weight="normal" fill="#2e2e2e">12</text>
<text x="385.31" y="567" font-size="9.2" text-anchor="middle" font-weight="normal" fill="#2e2e2e">36</text>
<text x="400.19" y="567" font-size="9.2" text-anchor="middle" font-weight="normal" fill="#2e2e2e">48</text>
<text x="415.06" y="567" font-size="9.2" text-anchor="middle" font-weight="normal" fill="#2e2e2e">60</text>
<text x="424.9" y="265.68" font-size="5.95" text-anchor="start" font-weight="normal" fill="#2e2e2e">NFE2</text>
<text x="424.9" y="272.24" font-size="5.95" text-anchor="start" font-weight="normal" fill="#2e2e2e">MTMR3*</text>
<text x="424.9" y="278.8" font-size="5.95" text-anchor="start" font-weight="normal" fill="#2e2e2e">KDM5A*</text>
<text x="424.9" y="285.36" font-size="5.95" text-anchor="start" font-weight="normal" fill="#2e2e2e">HLA-E</text>
<text x="424.9" y="291.92" font-size="5.95" text-anchor="start" font-weight="normal" fill="#2e2e2e">SLC38A10*</text>
<text x="424.9" y="298.48" font-size="5.95" text-anchor="start" font-weight="normal" fill="#2e2e2e">SUZ12*</text>
<text x="424.9" y="305.04" font-size="5.95" text-anchor="start" font-weight="normal" fill="#2e2e2e">PRKAR2A*</text>
<text x="424.9" y="311.6" font-size="5.95" text-anchor="start" font-weight="normal" fill="#2e2e2e">S100A2*</text>
<text x="424.9" y="318.16" font-size="5.95" text-anchor="start" font-weight="normal" fill="#2e2e2e">KMT5B*</text>
<text x="424.9" y="324.72" font-size="5.95" text-anchor="start" font-weight="normal" fill="#2e2e2e">COA1*</text>
<text x="424.9" y="331.28" font-size="5.95" text-anchor="start" font-weight="normal" fill="#2e2e2e">HEMK1*</text>
<text x="424.9" y="337.84" font-size="5.95" text-anchor="start" font-weight="normal" fill="#2e2e2e">KDM2A*</text>
<text x="424.9" y="344.4" font-size="5.95" text-anchor="start" font-weight="normal" fill="#2e2e2e">HELQ*</text>
<text x="424.9" y="350.96" font-size="5.95" text-anchor="start" font-weight="normal" fill="#2e2e2e">SEC16A*</text>
<text x="424.9" y="357.52" font-size="5.95" text-anchor="start" font-weight="normal" fill="#2e2e2e">WDTC1*</text>
<text x="424.9" y="364.67" font-size="5.95" text-anchor="start" font-weight="normal" fill="#2e2e2e">USP32*</text>
<text x="424.9" y="371.22" font-size="5.95" text-anchor="start" font-weight="normal" fill="#2e2e2e">POC1A*</text>
<text x="424.9" y="377.77" font-size="5.95" text-anchor="start" font-weight="normal" fill="#2e2e2e">ZNF592*</text>
<text x="424.9" y="384.31" font-size="5.95" text-anchor="start" font-weight="normal" fill="#2e2e2e">ZNF577*</text>
<text x="424.9" y="390.86" font-size="5.95" text-anchor="start" font-weight="normal" fill="#2e2e2e">ZMYM4*</text>
<text x="424.9" y="397.41" font-size="5.95" text-anchor="start" font-weight="normal" fill="#2e2e2e">ZFAND4*</text>
<text x="424.9" y="403.95" font-size="5.95" text-anchor="start" font-weight="normal" fill="#2e2e2e">MUM1*</text>
<text x="424.9" y="410.5" font-size="5.95" text-anchor="start" font-weight="normal" fill="#2e2e2e">LOC1019291</text>
<text x="424.9" y="417.05" font-size="5.95" text-anchor="start" font-weight="normal" fill="#2e2e2e">ACKR3</text>
<text x="424.9" y="423.59" font-size="5.95" text-anchor="start" font-weight="normal" fill="#2e2e2e">WASF2*</text>
<text x="424.9" y="430.14" font-size="5.95" text-anchor="start" font-weight="normal" fill="#2e2e2e">CHKA*</text>
<text x="424.9" y="436.69" font-size="5.95" text-anchor="start" font-weight="normal" fill="#2e2e2e">EDC3*</text>
<text x="424.9" y="443.23" font-size="5.95" text-anchor="start" font-weight="normal" fill="#2e2e2e">ERC1*</text>
<text x="424.9" y="449.78" font-size="5.95" text-anchor="start" font-weight="normal" fill="#2e2e2e">PTPRA*</text>
<text x="424.9" y="456.33" font-size="5.95" text-anchor="start" font-weight="normal" fill="#2e2e2e">SETD2*</text>
<text x="424.9" y="463.46" font-size="5.95" text-anchor="start" font-weight="normal" fill="#2e2e2e">MIR4537</text>
<text x="424.9" y="469.98" font-size="5.95" text-anchor="start" font-weight="normal" fill="#2e2e2e">AGPAT2*</text>
<text x="424.9" y="476.5" font-size="5.95" text-anchor="start" font-weight="normal" fill="#2e2e2e">LOC728392</text>
<text x="424.9" y="483.02" font-size="5.95" text-anchor="start" font-weight="normal" fill="#2e2e2e">FAM193A*</text>
<text x="424.9" y="489.54" font-size="5.95" text-anchor="start" font-weight="normal" fill="#2e2e2e">FNBP1*</text>
<text x="424.9" y="496.06" font-size="5.95" text-anchor="start" font-weight="normal" fill="#2e2e2e">HMBOX1*</text>
<text x="424.9" y="502.58" font-size="5.95" text-anchor="start" font-weight="normal" fill="#2e2e2e">LRMP*</text>
<text x="424.9" y="509.1" font-size="5.95" text-anchor="start" font-weight="normal" fill="#2e2e2e">HLA-DPB1</text>
<text x="424.9" y="515.62" font-size="5.95" text-anchor="start" font-weight="normal" fill="#2e2e2e">RPS6KA1*</text>
<text x="424.9" y="522.14" font-size="5.95" text-anchor="start" font-weight="normal" fill="#2e2e2e">RPS6KA1*</text>
<text x="424.9" y="528.66" font-size="5.95" text-anchor="start" font-weight="normal" fill="#2e2e2e">C2CD3*</text>
<text x="424.9" y="535.18" font-size="5.95" text-anchor="start" font-weight="normal" fill="#2e2e2e">EMC8</text>
<text x="424.9" y="541.7" font-size="5.95" text-anchor="start" font-weight="normal" fill="#2e2e2e">VPS52*</text>
<text x="424.9" y="548.22" font-size="5.95" text-anchor="start" font-weight="normal" fill="#2e2e2e">ALMS1*</text>
<text x="424.9" y="554.74" font-size="5.95" text-anchor="start" font-weight="normal" fill="#2e2e2e">KANSL1*</text>
<text transform="translate(105.8 311.4) rotate(-90)" x="0" y="0" font-size="8.4" text-anchor="middle" fill="#2e2e2e" textLength="49.4" lengthAdjust="spacingAndGlyphs">Multipotent</text>
<text transform="translate(94.9 409) rotate(-90)" x="0" y="0" font-size="8.4" text-anchor="middle" fill="#2e2e2e" textLength="32.4" lengthAdjust="spacingAndGlyphs">Myeloid</text>
<text transform="translate(103.9 409) rotate(-90)" x="0" y="0" font-size="8.4" text-anchor="middle" fill="#2e2e2e" textLength="37.6" lengthAdjust="spacingAndGlyphs">dominant</text>
<text transform="translate(95.2 502.7) rotate(-90)" x="0" y="0" font-size="8.4" text-anchor="middle" fill="#2e2e2e" textLength="17.8" lengthAdjust="spacingAndGlyphs">Tcell</text>
<text transform="translate(103.9 502.7) rotate(-90)" x="0" y="0" font-size="8.4" text-anchor="middle" fill="#2e2e2e" textLength="37.6" lengthAdjust="spacingAndGlyphs">dominant</text>
<g shape-rendering="crispEdges">
<rect x="39.6" y="212.1" width="2.1" height="17.1" fill="#274682"/>
<rect x="41.65" y="212.1" width="2.1" height="17.1" fill="#2f5496"/>
<rect x="43.7" y="212.1" width="2.1" height="17.1" fill="#355fa2"/>
<rect x="45.75" y="212.1" width="2.1" height="17.1" fill="#3b6aad"/>
<rect x="47.8" y="212.1" width="2.1" height="17.1" fill="#4879b7"/>
<rect x="49.85" y="212.1" width="2.1" height="17.1" fill="#5789c1"/>
<rect x="51.9" y="212.1" width="2.1" height="17.1" fill="#6a9aca"/>
<rect x="53.95" y="212.1" width="2.1" height="17.1" fill="#81abd3"/>
<rect x="56" y="212.1" width="2.1" height="17.1" fill="#99bcdc"/>
<rect x="58.05" y="212.1" width="2.1" height="17.1" fill="#b3cde4"/>
<rect x="60.1" y="212.1" width="2.1" height="17.1" fill="#cddfed"/>
<rect x="62.15" y="212.1" width="2.1" height="17.1" fill="#dee8f1"/>
<rect x="64.2" y="212.1" width="2.1" height="17.1" fill="#edf1f4"/>
<rect x="66.25" y="212.1" width="2.1" height="17.1" fill="#f5f1ef"/>
<rect x="68.3" y="212.1" width="2.1" height="17.1" fill="#f6e9e2"/>
<rect x="70.35" y="212.1" width="2.1" height="17.1" fill="#f6e1d4"/>
<rect x="72.4" y="212.1" width="2.1" height="17.1" fill="#f0cfbd"/>
<rect x="74.45" y="212.1" width="2.1" height="17.1" fill="#ebbda6"/>
<rect x="76.5" y="212.1" width="2.1" height="17.1" fill="#e4ab91"/>
<rect x="78.55" y="212.1" width="2.1" height="17.1" fill="#db987e"/>
<rect x="80.6" y="212.1" width="2.1" height="17.1" fill="#d2846c"/>
<rect x="82.65" y="212.1" width="2.1" height="17.1" fill="#c6685b"/>
<rect x="84.7" y="212.1" width="2.1" height="17.1" fill="#b94c49"/>
<rect x="86.75" y="212.1" width="2.1" height="17.1" fill="#a6363f"/>
<rect x="88.8" y="212.1" width="2.1" height="17.1" fill="#922035"/>
<rect x="90.85" y="212.1" width="2.1" height="17.1" fill="#750b29"/>
</g>
<polyline points="47.5,228.6 52,227.4 56,226 60,224.2 64,222.3 68,220.4 72,218.3 76,216.4 79,214.4 81,215.5 83,219.5 85,223.5 87,226.8 88.5,228.6" fill="none" stroke="#ffffff" stroke-opacity="0.3" stroke-width="0.6"/>
<rect x="39.1" y="211.6" width="54.3" height="18.1" fill="none" stroke="#111" stroke-width="1"/>
<line x1="35.8" y1="212.7" x2="38.9" y2="212.7" stroke="#222" stroke-width="0.85"/>
<line x1="35.8" y1="214.65" x2="38.9" y2="214.65" stroke="#222" stroke-width="0.85"/>
<line x1="35.8" y1="216.6" x2="38.9" y2="216.6" stroke="#222" stroke-width="0.85"/>
<line x1="35.8" y1="218.55" x2="38.9" y2="218.55" stroke="#222" stroke-width="0.85"/>
<line x1="35.8" y1="220.5" x2="38.9" y2="220.5" stroke="#222" stroke-width="0.85"/>
<line x1="35.8" y1="222.45" x2="38.9" y2="222.45" stroke="#222" stroke-width="0.85"/>
<line x1="35.8" y1="224.4" x2="38.9" y2="224.4" stroke="#222" stroke-width="0.85"/>
<line x1="35.8" y1="226.35" x2="38.9" y2="226.35" stroke="#222" stroke-width="0.85"/>
<line x1="35.8" y1="228.3" x2="38.9" y2="228.3" stroke="#222" stroke-width="0.85"/>
<text x="32.6" y="222.3" font-size="8.6" text-anchor="end" font-weight="normal" fill="#2e2e2e" textLength="10.2" lengthAdjust="spacingAndGlyphs">80</text>
<text x="32.6" y="232.2" font-size="8.6" text-anchor="end" font-weight="normal" fill="#2e2e2e" textLength="4.9" lengthAdjust="spacingAndGlyphs">0</text>
<text transform="translate(17.1 220.4) rotate(-90)" x="0" y="0" font-size="10.5" text-anchor="middle" fill="#2e2e2e" textLength="22.2" lengthAdjust="spacingAndGlyphs">Count</text>
<line x1="51.5" y1="229.7" x2="51.5" y2="232.7" stroke="#111" stroke-width="0.9"/>
<text x="51.5" y="243.6" font-size="8.4" text-anchor="middle" font-weight="normal" fill="#2e2e2e">-2</text>
<line x1="65.8" y1="229.7" x2="65.8" y2="232.7" stroke="#111" stroke-width="0.9"/>
<text x="65.8" y="243.6" font-size="8.4" text-anchor="middle" font-weight="normal" fill="#2e2e2e">0</text>
<line x1="80" y1="229.7" x2="80" y2="232.7" stroke="#111" stroke-width="0.9"/>
<text x="80" y="243.6" font-size="8.4" text-anchor="middle" font-weight="normal" fill="#2e2e2e">2</text>
<text x="66" y="258.5" font-size="10.2" text-anchor="middle" font-weight="normal" fill="#2e2e2e" textLength="41.2" lengthAdjust="spacingAndGlyphs">Log abund.</text>
<text x="7.7" y="16.6" font-size="13" text-anchor="start" font-weight="bold" fill="#000">A</text>
<text x="284.4" y="16.7" font-size="13" text-anchor="start" font-weight="bold" fill="#000" textLength="8.7" lengthAdjust="spacingAndGlyphs">B</text>
<text x="7.4" y="202.9" font-size="13" text-anchor="start" font-weight="bold" fill="#000">C</text>
<rect x="0.5" y="0.5" width="519" height="574" fill="none" stroke="#000" stroke-width="1"/>
</svg></body></html>
